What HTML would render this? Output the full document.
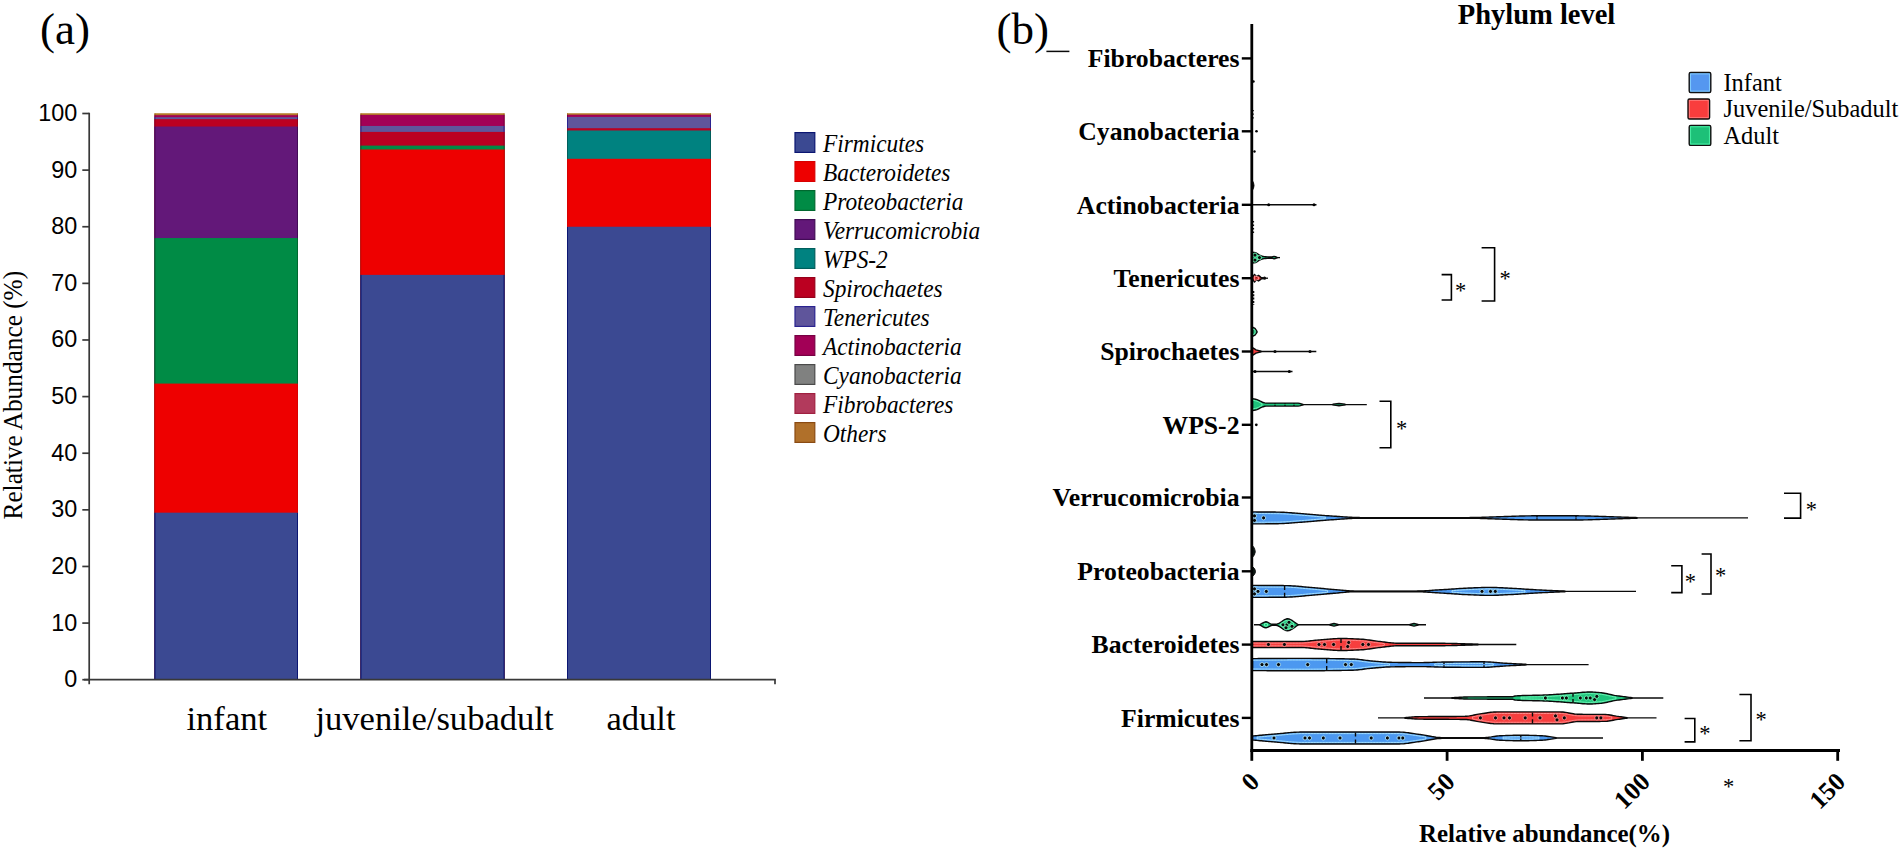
<!DOCTYPE html>
<html lang="en"><head><meta charset="utf-8"><title>Phylum level relative abundance</title>
<style>
html,body{margin:0;padding:0;background:#fff;}
body{width:1902px;height:851px;overflow:hidden;}
svg{display:block;}
text{white-space:pre;}
</style></head>
<body>
<svg width="1902" height="851" viewBox="0 0 1902 851">
<rect width="1902" height="851" fill="#ffffff"/>
<g id="panel-a">
<rect x="154.5" y="113.50" width="143.5" height="566.20" fill="#b0702a"/>
<rect x="154.5" y="115.20" width="143.5" height="564.50" fill="#a20056"/>
<rect x="154.5" y="117.18" width="143.5" height="562.52" fill="#5f559b"/>
<rect x="154.5" y="119.16" width="143.5" height="560.54" fill="#bb0021"/>
<rect x="154.5" y="126.52" width="143.5" height="553.18" fill="#631879"/>
<rect x="154.5" y="238.06" width="143.5" height="441.64" fill="#008b45"/>
<rect x="154.5" y="383.58" width="143.5" height="296.12" fill="#ee0000"/>
<rect x="154.5" y="512.67" width="143.5" height="167.03" fill="#3b4992"/>
<path d="M155.0 512.67 V679.70" stroke="#0b1672" stroke-width="1"/>
<path d="M297.5 512.67 V679.70" stroke="#0b1672" stroke-width="1"/>
<path d="M155.0 383.58 V512.67" stroke="#d80000" stroke-width="1"/>
<path d="M297.5 383.58 V512.67" stroke="#d80000" stroke-width="1"/>
<path d="M155.0 238.06 V383.58" stroke="#00682f" stroke-width="1"/>
<path d="M297.5 238.06 V383.58" stroke="#00682f" stroke-width="1"/>
<path d="M155.0 126.52 V238.06" stroke="#420c56" stroke-width="1"/>
<path d="M297.5 126.52 V238.06" stroke="#420c56" stroke-width="1"/>
<path d="M155.0 119.16 V126.52" stroke="#96001a" stroke-width="1"/>
<path d="M297.5 119.16 V126.52" stroke="#96001a" stroke-width="1"/>
<path d="M155.0 117.18 V119.16" stroke="#2a2390" stroke-width="1"/>
<path d="M297.5 117.18 V119.16" stroke="#2a2390" stroke-width="1"/>
<path d="M155.0 115.20 V117.18" stroke="#780044" stroke-width="1"/>
<path d="M297.5 115.20 V117.18" stroke="#780044" stroke-width="1"/>
<path d="M155.0 113.50 V115.20" stroke="#8a4a12" stroke-width="1"/>
<path d="M297.5 113.50 V115.20" stroke="#8a4a12" stroke-width="1"/>
<path d="M154.5 113.9 H298" stroke="#b8862e" stroke-width="0.9"/>
<rect x="360.5" y="113.50" width="144.0" height="566.20" fill="#b0702a"/>
<rect x="360.5" y="114.92" width="144.0" height="564.78" fill="#a20056"/>
<rect x="360.5" y="125.96" width="144.0" height="553.74" fill="#5f559b"/>
<rect x="360.5" y="131.90" width="144.0" height="547.80" fill="#bb0021"/>
<rect x="360.5" y="145.60" width="144.0" height="534.10" fill="#008b45"/>
<rect x="360.5" y="149.45" width="144.0" height="530.25" fill="#ee0000"/>
<rect x="360.5" y="274.87" width="144.0" height="404.83" fill="#3b4992"/>
<path d="M361.0 274.87 V679.70" stroke="#0b1672" stroke-width="1"/>
<path d="M504.0 274.87 V679.70" stroke="#0b1672" stroke-width="1"/>
<path d="M361.0 149.45 V274.87" stroke="#d80000" stroke-width="1"/>
<path d="M504.0 149.45 V274.87" stroke="#d80000" stroke-width="1"/>
<path d="M361.0 145.60 V149.45" stroke="#00682f" stroke-width="1"/>
<path d="M504.0 145.60 V149.45" stroke="#00682f" stroke-width="1"/>
<path d="M361.0 131.90 V145.60" stroke="#96001a" stroke-width="1"/>
<path d="M504.0 131.90 V145.60" stroke="#96001a" stroke-width="1"/>
<path d="M361.0 125.96 V131.90" stroke="#2a2390" stroke-width="1"/>
<path d="M504.0 125.96 V131.90" stroke="#2a2390" stroke-width="1"/>
<path d="M361.0 114.92 V125.96" stroke="#780044" stroke-width="1"/>
<path d="M504.0 114.92 V125.96" stroke="#780044" stroke-width="1"/>
<path d="M361.0 113.50 V114.92" stroke="#8a4a12" stroke-width="1"/>
<path d="M504.0 113.50 V114.92" stroke="#8a4a12" stroke-width="1"/>
<path d="M360.5 113.9 H504.5" stroke="#b8862e" stroke-width="0.9"/>
<rect x="567" y="113.50" width="144" height="566.20" fill="#b0702a"/>
<rect x="567" y="114.63" width="144" height="565.07" fill="#a20056"/>
<rect x="567" y="116.90" width="144" height="562.80" fill="#5f559b"/>
<rect x="567" y="128.22" width="144" height="551.48" fill="#bb0021"/>
<rect x="567" y="130.49" width="144" height="549.21" fill="#008280"/>
<rect x="567" y="158.80" width="144" height="520.90" fill="#ee0000"/>
<rect x="567" y="226.74" width="144" height="452.96" fill="#3b4992"/>
<path d="M567.5 226.74 V679.70" stroke="#0b1672" stroke-width="1"/>
<path d="M710.5 226.74 V679.70" stroke="#0b1672" stroke-width="1"/>
<path d="M567.5 158.80 V226.74" stroke="#d80000" stroke-width="1"/>
<path d="M710.5 158.80 V226.74" stroke="#d80000" stroke-width="1"/>
<path d="M567.5 130.49 V158.80" stroke="#005e5c" stroke-width="1"/>
<path d="M710.5 130.49 V158.80" stroke="#005e5c" stroke-width="1"/>
<path d="M567.5 128.22 V130.49" stroke="#96001a" stroke-width="1"/>
<path d="M710.5 128.22 V130.49" stroke="#96001a" stroke-width="1"/>
<path d="M567.5 116.90 V128.22" stroke="#2a2390" stroke-width="1"/>
<path d="M710.5 116.90 V128.22" stroke="#2a2390" stroke-width="1"/>
<path d="M567.5 114.63 V116.90" stroke="#780044" stroke-width="1"/>
<path d="M710.5 114.63 V116.90" stroke="#780044" stroke-width="1"/>
<path d="M567.5 113.50 V114.63" stroke="#8a4a12" stroke-width="1"/>
<path d="M710.5 113.50 V114.63" stroke="#8a4a12" stroke-width="1"/>
<path d="M567 113.9 H711" stroke="#b8862e" stroke-width="0.9"/>
<path d="M89.2 112.8 V684.3000000000001" stroke="#383838" stroke-width="1.7" fill="none"/>
<path d="M84 679.7 H775.9 M775.0 679.7 v4.6" stroke="#383838" stroke-width="1.7" fill="none"/>
<path d="M82.3 679.70 H89.2" stroke="#383838" stroke-width="1.7"/>
<text x="77.3" y="687.20" text-anchor="end" font-family='"Liberation Sans", sans-serif' font-size="23.4" fill="#000">0</text>
<path d="M82.3 623.08 H89.2" stroke="#383838" stroke-width="1.7"/>
<text x="77.3" y="630.58" text-anchor="end" font-family='"Liberation Sans", sans-serif' font-size="23.4" fill="#000">10</text>
<path d="M82.3 566.46 H89.2" stroke="#383838" stroke-width="1.7"/>
<text x="77.3" y="573.96" text-anchor="end" font-family='"Liberation Sans", sans-serif' font-size="23.4" fill="#000">20</text>
<path d="M82.3 509.84 H89.2" stroke="#383838" stroke-width="1.7"/>
<text x="77.3" y="517.34" text-anchor="end" font-family='"Liberation Sans", sans-serif' font-size="23.4" fill="#000">30</text>
<path d="M82.3 453.22 H89.2" stroke="#383838" stroke-width="1.7"/>
<text x="77.3" y="460.72" text-anchor="end" font-family='"Liberation Sans", sans-serif' font-size="23.4" fill="#000">40</text>
<path d="M82.3 396.60 H89.2" stroke="#383838" stroke-width="1.7"/>
<text x="77.3" y="404.10" text-anchor="end" font-family='"Liberation Sans", sans-serif' font-size="23.4" fill="#000">50</text>
<path d="M82.3 339.98 H89.2" stroke="#383838" stroke-width="1.7"/>
<text x="77.3" y="347.48" text-anchor="end" font-family='"Liberation Sans", sans-serif' font-size="23.4" fill="#000">60</text>
<path d="M82.3 283.36 H89.2" stroke="#383838" stroke-width="1.7"/>
<text x="77.3" y="290.86" text-anchor="end" font-family='"Liberation Sans", sans-serif' font-size="23.4" fill="#000">70</text>
<path d="M82.3 226.74 H89.2" stroke="#383838" stroke-width="1.7"/>
<text x="77.3" y="234.24" text-anchor="end" font-family='"Liberation Sans", sans-serif' font-size="23.4" fill="#000">80</text>
<path d="M82.3 170.12 H89.2" stroke="#383838" stroke-width="1.7"/>
<text x="77.3" y="177.62" text-anchor="end" font-family='"Liberation Sans", sans-serif' font-size="23.4" fill="#000">90</text>
<path d="M82.3 113.50 H89.2" stroke="#383838" stroke-width="1.7"/>
<text x="77.3" y="121.00" text-anchor="end" font-family='"Liberation Sans", sans-serif' font-size="23.4" fill="#000">100</text>
<text transform="translate(21.5 395.2) rotate(-90) scale(1 1.07)" text-anchor="middle" font-family='"Liberation Serif", serif' font-size="25.3" fill="#000">Relative Abundance (%)</text>
<text x="226.8" y="730" text-anchor="middle" font-family='"Liberation Serif", serif' font-size="34.6" fill="#000">infant</text>
<text x="434.5" y="730" text-anchor="middle" font-family='"Liberation Serif", serif' font-size="34.6" fill="#000">juvenile/subadult</text>
<text x="641" y="730" text-anchor="middle" font-family='"Liberation Serif", serif' font-size="34.6" fill="#000">adult</text>
<text x="40.1" y="43.6" font-family='"Liberation Serif", serif' font-size="45" fill="#000">(a)</text>
<rect x="795" y="132.6" width="19.8" height="19.8" fill="#3b4992" stroke="#0b1672" stroke-width="1.2"/>
<text transform="translate(823 151.5) scale(0.945 1)" font-family='"Liberation Serif", serif' font-style="italic" font-size="24.7" fill="#000">Firmicutes</text>
<rect x="795" y="161.6" width="19.8" height="19.8" fill="#ee0000" stroke="#d80000" stroke-width="1.2"/>
<text transform="translate(823 180.5) scale(0.945 1)" font-family='"Liberation Serif", serif' font-style="italic" font-size="24.7" fill="#000">Bacteroidetes</text>
<rect x="795" y="190.6" width="19.8" height="19.8" fill="#008b45" stroke="#00682f" stroke-width="1.2"/>
<text transform="translate(823 209.5) scale(0.945 1)" font-family='"Liberation Serif", serif' font-style="italic" font-size="24.7" fill="#000">Proteobacteria</text>
<rect x="795" y="219.6" width="19.8" height="19.8" fill="#631879" stroke="#420c56" stroke-width="1.2"/>
<text transform="translate(823 238.5) scale(0.945 1)" font-family='"Liberation Serif", serif' font-style="italic" font-size="24.7" fill="#000">Verrucomicrobia</text>
<rect x="795" y="248.6" width="19.8" height="19.8" fill="#008280" stroke="#005e5c" stroke-width="1.2"/>
<text transform="translate(823 267.5) scale(0.945 1)" font-family='"Liberation Serif", serif' font-style="italic" font-size="24.7" fill="#000">WPS-2</text>
<rect x="795" y="277.6" width="19.8" height="19.8" fill="#bb0021" stroke="#96001a" stroke-width="1.2"/>
<text transform="translate(823 296.5) scale(0.945 1)" font-family='"Liberation Serif", serif' font-style="italic" font-size="24.7" fill="#000">Spirochaetes</text>
<rect x="795" y="306.6" width="19.8" height="19.8" fill="#5f559b" stroke="#2a2390" stroke-width="1.2"/>
<text transform="translate(823 325.5) scale(0.945 1)" font-family='"Liberation Serif", serif' font-style="italic" font-size="24.7" fill="#000">Tenericutes</text>
<rect x="795" y="335.6" width="19.8" height="19.8" fill="#a20056" stroke="#780044" stroke-width="1.2"/>
<text transform="translate(823 354.5) scale(0.945 1)" font-family='"Liberation Serif", serif' font-style="italic" font-size="24.7" fill="#000">Actinobacteria</text>
<rect x="795" y="364.6" width="19.8" height="19.8" fill="#808180" stroke="#4a4a4a" stroke-width="1.2"/>
<text transform="translate(823 383.5) scale(0.945 1)" font-family='"Liberation Serif", serif' font-style="italic" font-size="24.7" fill="#000">Cyanobacteria</text>
<rect x="795" y="393.6" width="19.8" height="19.8" fill="#b23a5c" stroke="#a02040" stroke-width="1.2"/>
<text transform="translate(823 412.5) scale(0.945 1)" font-family='"Liberation Serif", serif' font-style="italic" font-size="24.7" fill="#000">Fibrobacteres</text>
<rect x="795" y="422.6" width="19.8" height="19.8" fill="#b0702a" stroke="#8a4a12" stroke-width="1.2"/>
<text transform="translate(823 441.5) scale(0.945 1)" font-family='"Liberation Serif", serif' font-style="italic" font-size="24.7" fill="#000">Others</text>
</g>
<g id="panel-b">
<text x="996.4" y="43.6" font-family='"Liberation Serif", serif' font-size="45" fill="#000">(b)</text>
<path d="M1046.4 51.4 H1069.4" stroke="#0a0a0a" stroke-width="1.5"/>
<text x="1536.5" y="24" text-anchor="middle" font-family='"Liberation Serif", serif' font-weight="bold" font-size="28.5" fill="#000">Phylum level</text>
<rect x="1689.2" y="72.5" width="21.6" height="20" rx="1.5" fill="#5597f0" stroke="#111" stroke-width="1.4"/>
<rect x="1690.6000000000001" y="73.9" width="18.8" height="17.2" fill="none" stroke="#86d2ff" stroke-width="0.9"/>
<text x="1723.5" y="90.8" font-family='"Liberation Serif", serif' font-size="24.4" fill="#000">Infant</text>
<rect x="1688" y="99" width="21.6" height="20" rx="1.5" fill="#f93d3d" stroke="#111" stroke-width="1.4"/>
<rect x="1689.4" y="100.4" width="18.8" height="17.2" fill="none" stroke="#ff7a7a" stroke-width="0.9"/>
<text x="1723.5" y="117.3" font-family='"Liberation Serif", serif' font-size="24.4" fill="#000">Juvenile/Subadult</text>
<rect x="1689.2" y="125.4" width="21.6" height="20" rx="1.5" fill="#1dc078" stroke="#111" stroke-width="1.4"/>
<rect x="1690.6000000000001" y="126.80000000000001" width="18.8" height="17.2" fill="none" stroke="#4df0a6" stroke-width="0.9"/>
<text x="1723.5" y="143.7" font-family='"Liberation Serif", serif' font-size="24.4" fill="#000">Adult</text>
<text x="1239.5" y="67.2" text-anchor="end" font-family='"Liberation Serif", serif' font-weight="bold" font-size="25.7" fill="#000">Fibrobacteres</text>
<path d="M1241.8 58.4 H1251.8" stroke="#000" stroke-width="2.4"/>
<text x="1239.5" y="140.1" text-anchor="end" font-family='"Liberation Serif", serif' font-weight="bold" font-size="25.7" fill="#000">Cyanobacteria</text>
<path d="M1241.8 131.3 H1251.8" stroke="#000" stroke-width="2.4"/>
<text x="1239.5" y="213.6" text-anchor="end" font-family='"Liberation Serif", serif' font-weight="bold" font-size="25.7" fill="#000">Actinobacteria</text>
<path d="M1241.8 204.8 H1251.8" stroke="#000" stroke-width="2.4"/>
<text x="1239.5" y="287.0" text-anchor="end" font-family='"Liberation Serif", serif' font-weight="bold" font-size="25.7" fill="#000">Tenericutes</text>
<path d="M1241.8 278.2 H1251.8" stroke="#000" stroke-width="2.4"/>
<text x="1239.5" y="360.3" text-anchor="end" font-family='"Liberation Serif", serif' font-weight="bold" font-size="25.7" fill="#000">Spirochaetes</text>
<path d="M1241.8 351.5 H1251.8" stroke="#000" stroke-width="2.4"/>
<text x="1239.5" y="433.6" text-anchor="end" font-family='"Liberation Serif", serif' font-weight="bold" font-size="25.7" fill="#000">WPS-2</text>
<path d="M1241.8 424.8 H1251.8" stroke="#000" stroke-width="2.4"/>
<text x="1239.5" y="506.3" text-anchor="end" font-family='"Liberation Serif", serif' font-weight="bold" font-size="25.7" fill="#000">Verrucomicrobia</text>
<path d="M1241.8 497.5 H1251.8" stroke="#000" stroke-width="2.4"/>
<text x="1239.5" y="580.1" text-anchor="end" font-family='"Liberation Serif", serif' font-weight="bold" font-size="25.7" fill="#000">Proteobacteria</text>
<path d="M1241.8 571.3 H1251.8" stroke="#000" stroke-width="2.4"/>
<text x="1239.5" y="653.4" text-anchor="end" font-family='"Liberation Serif", serif' font-weight="bold" font-size="25.7" fill="#000">Bacteroidetes</text>
<path d="M1241.8 644.6 H1251.8" stroke="#000" stroke-width="2.4"/>
<text x="1239.5" y="726.7" text-anchor="end" font-family='"Liberation Serif", serif' font-weight="bold" font-size="25.7" fill="#000">Firmicutes</text>
<path d="M1241.8 717.9 H1251.8" stroke="#000" stroke-width="2.4"/>
<path d="M1252 738 H1603" stroke="#0a0a0a" stroke-width="1.3"/>
<path d="M1252.5 736.00 L1254.0 735.87 L1255.5 735.73 L1257.0 735.59 L1258.5 735.46 L1260.0 735.32 L1261.5 735.18 L1263.0 735.04 L1264.5 734.91 L1266.0 734.77 L1267.5 734.64 L1269.0 734.50 L1270.5 734.37 L1272.0 734.25 L1273.5 734.12 L1275.0 734.00 L1276.5 733.88 L1277.9 733.75 L1279.4 733.62 L1280.9 733.48 L1282.4 733.34 L1283.8 733.20 L1285.3 733.06 L1286.8 732.92 L1288.3 732.79 L1289.7 732.66 L1291.2 732.54 L1292.7 732.42 L1294.2 732.32 L1295.6 732.23 L1297.1 732.15 L1298.6 732.09 L1300.1 732.04 L1301.5 732.01 L1303.0 732.00 L1304.5 732.00 L1306.0 732.00 L1307.5 732.00 L1309.0 732.00 L1310.5 732.00 L1312.0 732.00 L1313.6 732.00 L1315.1 732.00 L1316.6 732.00 L1318.1 732.00 L1319.6 732.00 L1321.1 732.00 L1322.6 732.00 L1324.1 732.00 L1325.6 732.00 L1327.1 732.00 L1328.6 732.00 L1330.1 732.00 L1331.7 732.00 L1333.2 732.00 L1334.7 732.00 L1336.2 732.00 L1337.7 732.00 L1339.2 732.00 L1340.7 732.00 L1342.2 732.00 L1343.7 732.00 L1345.2 732.00 L1346.7 732.00 L1348.2 732.00 L1349.7 732.00 L1351.3 732.00 L1352.8 732.00 L1354.3 732.00 L1355.8 732.00 L1357.3 732.00 L1358.8 732.00 L1360.3 732.00 L1361.8 732.00 L1363.3 732.00 L1364.8 732.00 L1366.3 732.00 L1367.8 732.00 L1369.3 732.00 L1370.9 732.00 L1372.4 732.00 L1373.9 732.00 L1375.4 732.00 L1376.9 732.00 L1378.4 732.00 L1379.9 732.00 L1381.4 732.00 L1382.9 732.00 L1384.4 732.00 L1385.9 732.00 L1387.4 732.00 L1389.0 732.00 L1390.5 732.00 L1392.0 732.00 L1393.5 732.00 L1395.0 732.00 L1396.5 732.00 L1398.0 732.00 L1399.5 732.02 L1400.9 732.08 L1402.4 732.17 L1403.9 732.29 L1405.3 732.44 L1406.8 732.61 L1408.3 732.80 L1409.7 733.01 L1411.2 733.22 L1412.7 733.44 L1414.1 733.66 L1415.6 733.89 L1417.1 734.10 L1418.5 734.31 L1420.0 734.50 L1421.5 734.70 L1422.9 734.93 L1424.4 735.18 L1425.9 735.44 L1427.3 735.71 L1428.8 735.99 L1430.3 736.26 L1431.7 736.53 L1433.2 736.77 L1434.7 737.00 L1436.1 737.20 L1437.6 737.37 L1439.1 737.49 L1440.5 737.57 L1442.0 737.60 L1443.5 737.60 L1445.0 737.60 L1446.5 737.60 L1448.0 737.60 L1449.5 737.60 L1451.0 737.60 L1452.5 737.60 L1454.0 737.60 L1455.5 737.60 L1457.0 737.60 L1458.5 737.60 L1460.0 737.60 L1461.5 737.60 L1463.0 737.60 L1464.5 737.60 L1466.0 737.60 L1467.5 737.60 L1469.0 737.60 L1470.5 737.60 L1472.0 737.60 L1473.5 737.60 L1475.0 737.60 L1476.5 737.60 L1478.0 737.60 L1479.5 737.60 L1481.0 737.60 L1482.5 737.60 L1484.0 737.60 L1485.5 737.56 L1486.9 737.46 L1488.4 737.31 L1489.8 737.12 L1491.3 736.91 L1492.7 736.68 L1494.2 736.45 L1495.6 736.24 L1497.1 736.05 L1498.5 735.90 L1500.0 735.80 L1501.5 735.73 L1503.0 735.66 L1504.5 735.60 L1506.0 735.54 L1507.5 735.48 L1509.0 735.43 L1510.5 735.38 L1512.0 735.33 L1513.5 735.29 L1515.0 735.26 L1516.5 735.24 L1518.0 735.22 L1519.5 735.20 L1521.0 735.20 L1522.5 735.20 L1524.0 735.22 L1525.5 735.23 L1527.0 735.26 L1528.5 735.29 L1530.0 735.33 L1531.5 735.37 L1533.0 735.42 L1534.5 735.47 L1536.0 735.53 L1537.5 735.59 L1539.0 735.66 L1540.5 735.73 L1542.0 735.80 L1543.6 735.90 L1545.1 736.05 L1546.7 736.23 L1548.2 736.45 L1549.8 736.68 L1551.3 736.92 L1552.9 737.16 L1554.4 737.39 L1556.0 737.60 L1556.0 738.40 L1554.4 738.61 L1552.9 738.84 L1551.3 739.08 L1549.8 739.32 L1548.2 739.55 L1546.7 739.77 L1545.1 739.95 L1543.6 740.10 L1542.0 740.20 L1540.5 740.27 L1539.0 740.34 L1537.5 740.41 L1536.0 740.47 L1534.5 740.53 L1533.0 740.58 L1531.5 740.63 L1530.0 740.67 L1528.5 740.71 L1527.0 740.74 L1525.5 740.77 L1524.0 740.78 L1522.5 740.80 L1521.0 740.80 L1519.5 740.80 L1518.0 740.78 L1516.5 740.76 L1515.0 740.74 L1513.5 740.71 L1512.0 740.67 L1510.5 740.62 L1509.0 740.57 L1507.5 740.52 L1506.0 740.46 L1504.5 740.40 L1503.0 740.34 L1501.5 740.27 L1500.0 740.20 L1498.5 740.10 L1497.1 739.95 L1495.6 739.76 L1494.2 739.55 L1492.7 739.32 L1491.3 739.09 L1489.8 738.88 L1488.4 738.69 L1486.9 738.54 L1485.5 738.44 L1484.0 738.40 L1482.5 738.40 L1481.0 738.40 L1479.5 738.40 L1478.0 738.40 L1476.5 738.40 L1475.0 738.40 L1473.5 738.40 L1472.0 738.40 L1470.5 738.40 L1469.0 738.40 L1467.5 738.40 L1466.0 738.40 L1464.5 738.40 L1463.0 738.40 L1461.5 738.40 L1460.0 738.40 L1458.5 738.40 L1457.0 738.40 L1455.5 738.40 L1454.0 738.40 L1452.5 738.40 L1451.0 738.40 L1449.5 738.40 L1448.0 738.40 L1446.5 738.40 L1445.0 738.40 L1443.5 738.40 L1442.0 738.40 L1440.5 738.43 L1439.1 738.51 L1437.6 738.63 L1436.1 738.80 L1434.7 739.00 L1433.2 739.23 L1431.7 739.47 L1430.3 739.74 L1428.8 740.01 L1427.3 740.29 L1425.9 740.56 L1424.4 740.82 L1422.9 741.07 L1421.5 741.30 L1420.0 741.50 L1418.5 741.69 L1417.1 741.90 L1415.6 742.11 L1414.1 742.34 L1412.7 742.56 L1411.2 742.78 L1409.7 742.99 L1408.3 743.20 L1406.8 743.39 L1405.3 743.56 L1403.9 743.71 L1402.4 743.83 L1400.9 743.92 L1399.5 743.98 L1398.0 744.00 L1396.5 744.00 L1395.0 744.00 L1393.5 744.00 L1392.0 744.00 L1390.5 744.00 L1389.0 744.00 L1387.4 744.00 L1385.9 744.00 L1384.4 744.00 L1382.9 744.00 L1381.4 744.00 L1379.9 744.00 L1378.4 744.00 L1376.9 744.00 L1375.4 744.00 L1373.9 744.00 L1372.4 744.00 L1370.9 744.00 L1369.3 744.00 L1367.8 744.00 L1366.3 744.00 L1364.8 744.00 L1363.3 744.00 L1361.8 744.00 L1360.3 744.00 L1358.8 744.00 L1357.3 744.00 L1355.8 744.00 L1354.3 744.00 L1352.8 744.00 L1351.3 744.00 L1349.7 744.00 L1348.2 744.00 L1346.7 744.00 L1345.2 744.00 L1343.7 744.00 L1342.2 744.00 L1340.7 744.00 L1339.2 744.00 L1337.7 744.00 L1336.2 744.00 L1334.7 744.00 L1333.2 744.00 L1331.7 744.00 L1330.1 744.00 L1328.6 744.00 L1327.1 744.00 L1325.6 744.00 L1324.1 744.00 L1322.6 744.00 L1321.1 744.00 L1319.6 744.00 L1318.1 744.00 L1316.6 744.00 L1315.1 744.00 L1313.6 744.00 L1312.0 744.00 L1310.5 744.00 L1309.0 744.00 L1307.5 744.00 L1306.0 744.00 L1304.5 744.00 L1303.0 744.00 L1301.5 743.99 L1300.1 743.96 L1298.6 743.91 L1297.1 743.85 L1295.6 743.77 L1294.2 743.68 L1292.7 743.58 L1291.2 743.46 L1289.7 743.34 L1288.3 743.21 L1286.8 743.08 L1285.3 742.94 L1283.8 742.80 L1282.4 742.66 L1280.9 742.52 L1279.4 742.38 L1277.9 742.25 L1276.5 742.12 L1275.0 742.00 L1273.5 741.88 L1272.0 741.75 L1270.5 741.63 L1269.0 741.50 L1267.5 741.36 L1266.0 741.23 L1264.5 741.09 L1263.0 740.96 L1261.5 740.82 L1260.0 740.68 L1258.5 740.54 L1257.0 740.41 L1255.5 740.27 L1254.0 740.13 L1252.5 740.00 Z" fill="#4c98f0" stroke="#0a0a0a" stroke-width="1.4" stroke-linejoin="round"/>
<path d="M1257.0 737.19 L1258.5 737.06 L1260.0 736.92 L1261.5 736.78 L1263.0 736.64 L1264.5 736.51 L1266.0 736.37 L1267.5 736.24 L1269.0 736.10 L1270.5 735.97 L1272.0 735.85 L1273.5 735.72 L1275.0 735.60 L1276.5 735.48 L1277.9 735.35 L1279.4 735.22 L1280.9 735.08 L1282.4 734.94 L1283.8 734.80 L1285.3 734.66 L1286.8 734.52 L1288.3 734.39 L1289.7 734.26 L1291.2 734.14 L1292.7 734.02 L1294.2 733.92 L1295.6 733.83 L1297.1 733.75 L1298.6 733.69 L1300.1 733.64 L1301.5 733.61 L1303.0 733.60 L1304.5 733.60 L1306.0 733.60 L1307.5 733.60 L1309.0 733.60 L1310.5 733.60 L1312.0 733.60 L1313.6 733.60 L1315.1 733.60 L1316.6 733.60 L1318.1 733.60 L1319.6 733.60 L1321.1 733.60 L1322.6 733.60 L1324.1 733.60 L1325.6 733.60 L1327.1 733.60 L1328.6 733.60 L1330.1 733.60 L1331.7 733.60 L1333.2 733.60 L1334.7 733.60 L1336.2 733.60 L1337.7 733.60 L1339.2 733.60 L1340.7 733.60 L1342.2 733.60 L1343.7 733.60 L1345.2 733.60 L1346.7 733.60 L1348.2 733.60 L1349.7 733.60 L1351.3 733.60 L1352.8 733.60 L1354.3 733.60 L1355.8 733.60 L1357.3 733.60 L1358.8 733.60 L1360.3 733.60 L1361.8 733.60 L1363.3 733.60 L1364.8 733.60 L1366.3 733.60 L1367.8 733.60 L1369.3 733.60 L1370.9 733.60 L1372.4 733.60 L1373.9 733.60 L1375.4 733.60 L1376.9 733.60 L1378.4 733.60 L1379.9 733.60 L1381.4 733.60 L1382.9 733.60 L1384.4 733.60 L1385.9 733.60 L1387.4 733.60 L1389.0 733.60 L1390.5 733.60 L1392.0 733.60 L1393.5 733.60 L1395.0 733.60 L1396.5 733.60 L1398.0 733.60 L1399.5 733.62 L1400.9 733.68 L1402.4 733.77 L1403.9 733.89 L1405.3 734.04 L1406.8 734.21 L1408.3 734.40 L1409.7 734.61 L1411.2 734.82 L1412.7 735.04 L1414.1 735.26 L1415.6 735.49 L1417.1 735.70 L1418.5 735.91 L1420.0 736.10 L1421.5 736.30 L1422.9 736.53 L1424.4 736.78 L1425.9 737.04 L1425.9 738.96 L1424.4 739.22 L1422.9 739.47 L1421.5 739.70 L1420.0 739.90 L1418.5 740.09 L1417.1 740.30 L1415.6 740.51 L1414.1 740.74 L1412.7 740.96 L1411.2 741.18 L1409.7 741.39 L1408.3 741.60 L1406.8 741.79 L1405.3 741.96 L1403.9 742.11 L1402.4 742.23 L1400.9 742.32 L1399.5 742.38 L1398.0 742.40 L1396.5 742.40 L1395.0 742.40 L1393.5 742.40 L1392.0 742.40 L1390.5 742.40 L1389.0 742.40 L1387.4 742.40 L1385.9 742.40 L1384.4 742.40 L1382.9 742.40 L1381.4 742.40 L1379.9 742.40 L1378.4 742.40 L1376.9 742.40 L1375.4 742.40 L1373.9 742.40 L1372.4 742.40 L1370.9 742.40 L1369.3 742.40 L1367.8 742.40 L1366.3 742.40 L1364.8 742.40 L1363.3 742.40 L1361.8 742.40 L1360.3 742.40 L1358.8 742.40 L1357.3 742.40 L1355.8 742.40 L1354.3 742.40 L1352.8 742.40 L1351.3 742.40 L1349.7 742.40 L1348.2 742.40 L1346.7 742.40 L1345.2 742.40 L1343.7 742.40 L1342.2 742.40 L1340.7 742.40 L1339.2 742.40 L1337.7 742.40 L1336.2 742.40 L1334.7 742.40 L1333.2 742.40 L1331.7 742.40 L1330.1 742.40 L1328.6 742.40 L1327.1 742.40 L1325.6 742.40 L1324.1 742.40 L1322.6 742.40 L1321.1 742.40 L1319.6 742.40 L1318.1 742.40 L1316.6 742.40 L1315.1 742.40 L1313.6 742.40 L1312.0 742.40 L1310.5 742.40 L1309.0 742.40 L1307.5 742.40 L1306.0 742.40 L1304.5 742.40 L1303.0 742.40 L1301.5 742.39 L1300.1 742.36 L1298.6 742.31 L1297.1 742.25 L1295.6 742.17 L1294.2 742.08 L1292.7 741.98 L1291.2 741.86 L1289.7 741.74 L1288.3 741.61 L1286.8 741.48 L1285.3 741.34 L1283.8 741.20 L1282.4 741.06 L1280.9 740.92 L1279.4 740.78 L1277.9 740.65 L1276.5 740.52 L1275.0 740.40 L1273.5 740.28 L1272.0 740.15 L1270.5 740.03 L1269.0 739.90 L1267.5 739.76 L1266.0 739.63 L1264.5 739.49 L1263.0 739.36 L1261.5 739.22 L1260.0 739.08 L1258.5 738.94 L1257.0 738.81 Z" fill="none" stroke="#a6e2ff" stroke-width="1"/>
<path d="M1503.0 737.26 L1504.5 737.20 L1506.0 737.14 L1507.5 737.08 L1509.0 737.03 L1510.5 736.98 L1512.0 736.93 L1513.5 736.89 L1515.0 736.86 L1516.5 736.84 L1518.0 736.82 L1519.5 736.80 L1521.0 736.80 L1522.5 736.80 L1524.0 736.82 L1525.5 736.83 L1527.0 736.86 L1528.5 736.89 L1530.0 736.93 L1531.5 736.97 L1533.0 737.02 L1534.5 737.07 L1536.0 737.13 L1537.5 737.19 L1539.0 737.26 L1539.0 738.74 L1537.5 738.81 L1536.0 738.87 L1534.5 738.93 L1533.0 738.98 L1531.5 739.03 L1530.0 739.07 L1528.5 739.11 L1527.0 739.14 L1525.5 739.17 L1524.0 739.18 L1522.5 739.20 L1521.0 739.20 L1519.5 739.20 L1518.0 739.18 L1516.5 739.16 L1515.0 739.14 L1513.5 739.11 L1512.0 739.07 L1510.5 739.02 L1509.0 738.97 L1507.5 738.92 L1506.0 738.86 L1504.5 738.80 L1503.0 738.74 Z" fill="none" stroke="#a6e2ff" stroke-width="1"/>
<path d="M1355.5 732.5 V743.5" stroke="#0a0a0a" stroke-width="1.4" stroke-dasharray="4.1 2.8"/>
<path d="M1520.8 735.5 V740.5" stroke="#0a0a0a" stroke-width="1.4" stroke-dasharray="1.9 1.2"/>
<circle cx="1274" cy="738" r="2.05" fill="#0a0a0a" stroke="#a6e2ff" stroke-width="0.9"/>
<circle cx="1305" cy="738" r="2.05" fill="#0a0a0a" stroke="#a6e2ff" stroke-width="0.9"/>
<circle cx="1309.5" cy="738" r="2.05" fill="#0a0a0a" stroke="#a6e2ff" stroke-width="0.9"/>
<circle cx="1323.3" cy="738" r="2.05" fill="#0a0a0a" stroke="#a6e2ff" stroke-width="0.9"/>
<circle cx="1340" cy="738" r="2.05" fill="#0a0a0a" stroke="#a6e2ff" stroke-width="0.9"/>
<circle cx="1371.2" cy="738" r="2.05" fill="#0a0a0a" stroke="#a6e2ff" stroke-width="0.9"/>
<circle cx="1387.4" cy="738" r="2.05" fill="#0a0a0a" stroke="#a6e2ff" stroke-width="0.9"/>
<circle cx="1399" cy="738" r="2.05" fill="#0a0a0a" stroke="#a6e2ff" stroke-width="0.9"/>
<circle cx="1402.8" cy="738" r="2.05" fill="#0a0a0a" stroke="#a6e2ff" stroke-width="0.9"/>
<path d="M1378 717.9 H1656.5" stroke="#0a0a0a" stroke-width="1.3"/>
<path d="M1405.0 717.60 L1406.4 717.49 L1407.9 717.37 L1409.3 717.25 L1410.8 717.13 L1412.2 717.01 L1413.7 716.90 L1415.1 716.81 L1416.6 716.74 L1418.0 716.70 L1419.5 716.67 L1421.0 716.65 L1422.5 716.63 L1424.1 716.61 L1425.6 716.60 L1427.1 716.58 L1428.6 716.57 L1430.1 716.56 L1431.6 716.55 L1433.2 716.54 L1434.7 716.53 L1436.2 716.53 L1437.7 716.52 L1439.2 716.52 L1440.7 716.51 L1442.3 716.51 L1443.8 716.50 L1445.3 716.49 L1446.8 716.49 L1448.3 716.48 L1449.8 716.47 L1451.4 716.46 L1452.9 716.45 L1454.4 716.44 L1455.9 716.43 L1457.4 716.41 L1458.9 716.39 L1460.5 716.37 L1462.0 716.35 L1463.5 716.33 L1465.0 716.30 L1466.5 716.23 L1468.0 716.08 L1469.5 715.87 L1471.0 715.61 L1472.5 715.32 L1474.0 715.01 L1475.5 714.70 L1477.0 714.40 L1478.5 714.13 L1480.0 713.90 L1481.5 713.68 L1483.1 713.44 L1484.6 713.20 L1486.2 712.96 L1487.7 712.72 L1489.3 712.50 L1490.8 712.31 L1492.4 712.14 L1493.9 712.01 L1495.5 711.93 L1497.0 711.90 L1498.5 711.90 L1500.0 711.90 L1501.5 711.90 L1503.0 711.90 L1504.5 711.90 L1506.0 711.90 L1507.5 711.90 L1509.0 711.90 L1510.5 711.90 L1512.0 711.90 L1513.5 711.90 L1515.0 711.90 L1516.5 711.90 L1518.0 711.90 L1519.5 711.90 L1521.0 711.90 L1522.5 711.90 L1524.0 711.90 L1525.5 711.90 L1527.0 711.90 L1528.5 711.90 L1530.0 711.90 L1531.5 711.90 L1533.0 711.90 L1534.5 711.90 L1536.0 711.90 L1537.5 711.90 L1539.0 711.90 L1540.5 711.90 L1542.0 711.90 L1543.5 711.90 L1545.0 711.90 L1546.5 711.90 L1548.0 711.90 L1549.5 711.90 L1551.0 711.90 L1552.5 711.90 L1554.0 711.90 L1555.5 711.90 L1557.0 711.90 L1558.5 711.90 L1560.0 711.90 L1561.5 711.94 L1562.9 712.05 L1564.4 712.22 L1565.8 712.43 L1567.3 712.68 L1568.8 712.94 L1570.2 713.22 L1571.7 713.49 L1573.2 713.74 L1574.6 713.95 L1576.1 714.13 L1577.5 714.25 L1579.0 714.30 L1580.5 714.31 L1581.9 714.32 L1583.4 714.33 L1584.9 714.33 L1586.4 714.34 L1587.8 714.34 L1589.3 714.34 L1590.8 714.35 L1592.2 714.35 L1593.7 714.35 L1595.2 714.36 L1596.6 714.36 L1598.1 714.37 L1599.6 714.37 L1601.1 714.38 L1602.5 714.39 L1604.0 714.40 L1605.6 714.46 L1607.1 714.59 L1608.7 714.79 L1610.2 715.04 L1611.8 715.31 L1613.3 715.60 L1614.9 715.89 L1616.4 716.16 L1618.0 716.40 L1619.5 716.60 L1621.0 716.81 L1622.5 717.00 L1624.0 717.20 L1625.5 717.40 L1627.0 717.60 L1627.0 718.20 L1625.5 718.40 L1624.0 718.60 L1622.5 718.80 L1621.0 718.99 L1619.5 719.20 L1618.0 719.40 L1616.4 719.64 L1614.9 719.91 L1613.3 720.20 L1611.8 720.49 L1610.2 720.76 L1608.7 721.01 L1607.1 721.21 L1605.6 721.34 L1604.0 721.40 L1602.5 721.41 L1601.1 721.42 L1599.6 721.43 L1598.1 721.43 L1596.6 721.44 L1595.2 721.44 L1593.7 721.45 L1592.2 721.45 L1590.8 721.45 L1589.3 721.46 L1587.8 721.46 L1586.4 721.46 L1584.9 721.47 L1583.4 721.47 L1581.9 721.48 L1580.5 721.49 L1579.0 721.50 L1577.5 721.55 L1576.1 721.67 L1574.6 721.85 L1573.2 722.06 L1571.7 722.31 L1570.2 722.58 L1568.8 722.86 L1567.3 723.12 L1565.8 723.37 L1564.4 723.58 L1562.9 723.75 L1561.5 723.86 L1560.0 723.90 L1558.5 723.90 L1557.0 723.90 L1555.5 723.90 L1554.0 723.90 L1552.5 723.90 L1551.0 723.90 L1549.5 723.90 L1548.0 723.90 L1546.5 723.90 L1545.0 723.90 L1543.5 723.90 L1542.0 723.90 L1540.5 723.90 L1539.0 723.90 L1537.5 723.90 L1536.0 723.90 L1534.5 723.90 L1533.0 723.90 L1531.5 723.90 L1530.0 723.90 L1528.5 723.90 L1527.0 723.90 L1525.5 723.90 L1524.0 723.90 L1522.5 723.90 L1521.0 723.90 L1519.5 723.90 L1518.0 723.90 L1516.5 723.90 L1515.0 723.90 L1513.5 723.90 L1512.0 723.90 L1510.5 723.90 L1509.0 723.90 L1507.5 723.90 L1506.0 723.90 L1504.5 723.90 L1503.0 723.90 L1501.5 723.90 L1500.0 723.90 L1498.5 723.90 L1497.0 723.90 L1495.5 723.87 L1493.9 723.79 L1492.4 723.66 L1490.8 723.49 L1489.3 723.30 L1487.7 723.08 L1486.2 722.84 L1484.6 722.60 L1483.1 722.36 L1481.5 722.12 L1480.0 721.90 L1478.5 721.67 L1477.0 721.40 L1475.5 721.10 L1474.0 720.79 L1472.5 720.48 L1471.0 720.19 L1469.5 719.93 L1468.0 719.72 L1466.5 719.57 L1465.0 719.50 L1463.5 719.47 L1462.0 719.45 L1460.5 719.43 L1458.9 719.41 L1457.4 719.39 L1455.9 719.37 L1454.4 719.36 L1452.9 719.35 L1451.4 719.34 L1449.8 719.33 L1448.3 719.32 L1446.8 719.31 L1445.3 719.31 L1443.8 719.30 L1442.3 719.29 L1440.7 719.29 L1439.2 719.28 L1437.7 719.28 L1436.2 719.27 L1434.7 719.27 L1433.2 719.26 L1431.6 719.25 L1430.1 719.24 L1428.6 719.23 L1427.1 719.22 L1425.6 719.20 L1424.1 719.19 L1422.5 719.17 L1421.0 719.15 L1419.5 719.13 L1418.0 719.10 L1416.6 719.06 L1415.1 718.99 L1413.7 718.90 L1412.2 718.79 L1410.8 718.67 L1409.3 718.55 L1407.9 718.43 L1406.4 718.31 L1405.0 718.20 Z" fill="#f63e3e" stroke="#0a0a0a" stroke-width="1.4" stroke-linejoin="round"/>
<path d="M1472.5 716.92 L1474.0 716.61 L1475.5 716.30 L1477.0 716.00 L1478.5 715.73 L1480.0 715.50 L1481.5 715.28 L1483.1 715.04 L1484.6 714.80 L1486.2 714.56 L1487.7 714.32 L1489.3 714.10 L1490.8 713.91 L1492.4 713.74 L1493.9 713.61 L1495.5 713.53 L1497.0 713.50 L1498.5 713.50 L1500.0 713.50 L1501.5 713.50 L1503.0 713.50 L1504.5 713.50 L1506.0 713.50 L1507.5 713.50 L1509.0 713.50 L1510.5 713.50 L1512.0 713.50 L1513.5 713.50 L1515.0 713.50 L1516.5 713.50 L1518.0 713.50 L1519.5 713.50 L1521.0 713.50 L1522.5 713.50 L1524.0 713.50 L1525.5 713.50 L1527.0 713.50 L1528.5 713.50 L1530.0 713.50 L1531.5 713.50 L1533.0 713.50 L1534.5 713.50 L1536.0 713.50 L1537.5 713.50 L1539.0 713.50 L1540.5 713.50 L1542.0 713.50 L1543.5 713.50 L1545.0 713.50 L1546.5 713.50 L1548.0 713.50 L1549.5 713.50 L1551.0 713.50 L1552.5 713.50 L1554.0 713.50 L1555.5 713.50 L1557.0 713.50 L1558.5 713.50 L1560.0 713.50 L1561.5 713.54 L1562.9 713.65 L1564.4 713.82 L1565.8 714.03 L1567.3 714.28 L1568.8 714.54 L1570.2 714.82 L1571.7 715.09 L1573.2 715.34 L1574.6 715.55 L1576.1 715.73 L1577.5 715.85 L1579.0 715.90 L1580.5 715.91 L1581.9 715.92 L1583.4 715.93 L1584.9 715.93 L1586.4 715.94 L1587.8 715.94 L1589.3 715.94 L1590.8 715.95 L1592.2 715.95 L1593.7 715.95 L1595.2 715.96 L1596.6 715.96 L1598.1 715.97 L1599.6 715.97 L1601.1 715.98 L1602.5 715.99 L1604.0 716.00 L1605.6 716.06 L1607.1 716.19 L1608.7 716.39 L1610.2 716.64 L1611.8 716.91 L1611.8 718.89 L1610.2 719.16 L1608.7 719.41 L1607.1 719.61 L1605.6 719.74 L1604.0 719.80 L1602.5 719.81 L1601.1 719.82 L1599.6 719.83 L1598.1 719.83 L1596.6 719.84 L1595.2 719.84 L1593.7 719.85 L1592.2 719.85 L1590.8 719.85 L1589.3 719.86 L1587.8 719.86 L1586.4 719.86 L1584.9 719.87 L1583.4 719.87 L1581.9 719.88 L1580.5 719.89 L1579.0 719.90 L1577.5 719.95 L1576.1 720.07 L1574.6 720.25 L1573.2 720.46 L1571.7 720.71 L1570.2 720.98 L1568.8 721.26 L1567.3 721.52 L1565.8 721.77 L1564.4 721.98 L1562.9 722.15 L1561.5 722.26 L1560.0 722.30 L1558.5 722.30 L1557.0 722.30 L1555.5 722.30 L1554.0 722.30 L1552.5 722.30 L1551.0 722.30 L1549.5 722.30 L1548.0 722.30 L1546.5 722.30 L1545.0 722.30 L1543.5 722.30 L1542.0 722.30 L1540.5 722.30 L1539.0 722.30 L1537.5 722.30 L1536.0 722.30 L1534.5 722.30 L1533.0 722.30 L1531.5 722.30 L1530.0 722.30 L1528.5 722.30 L1527.0 722.30 L1525.5 722.30 L1524.0 722.30 L1522.5 722.30 L1521.0 722.30 L1519.5 722.30 L1518.0 722.30 L1516.5 722.30 L1515.0 722.30 L1513.5 722.30 L1512.0 722.30 L1510.5 722.30 L1509.0 722.30 L1507.5 722.30 L1506.0 722.30 L1504.5 722.30 L1503.0 722.30 L1501.5 722.30 L1500.0 722.30 L1498.5 722.30 L1497.0 722.30 L1495.5 722.27 L1493.9 722.19 L1492.4 722.06 L1490.8 721.89 L1489.3 721.70 L1487.7 721.48 L1486.2 721.24 L1484.6 721.00 L1483.1 720.76 L1481.5 720.52 L1480.0 720.30 L1478.5 720.07 L1477.0 719.80 L1475.5 719.50 L1474.0 719.19 L1472.5 718.88 Z" fill="none" stroke="#ff8a8a" stroke-width="1"/>
<path d="M1532.5 712.4 V723.4" stroke="#0a0a0a" stroke-width="1.4" stroke-dasharray="4.1 2.8"/>
<circle cx="1480.4" cy="717.9" r="2.05" fill="#0a0a0a" stroke="#ff8a8a" stroke-width="0.9"/>
<circle cx="1495.5" cy="717.9" r="2.05" fill="#0a0a0a" stroke="#ff8a8a" stroke-width="0.9"/>
<circle cx="1504" cy="717.9" r="2.05" fill="#0a0a0a" stroke="#ff8a8a" stroke-width="0.9"/>
<circle cx="1509.5" cy="717.9" r="2.05" fill="#0a0a0a" stroke="#ff8a8a" stroke-width="0.9"/>
<circle cx="1525.2" cy="717.9" r="2.05" fill="#0a0a0a" stroke="#ff8a8a" stroke-width="0.9"/>
<circle cx="1540" cy="717.9" r="2.05" fill="#0a0a0a" stroke="#ff8a8a" stroke-width="0.9"/>
<circle cx="1555.5" cy="715.9" r="2.05" fill="#0a0a0a" stroke="#ff8a8a" stroke-width="0.9"/>
<circle cx="1557" cy="719.9" r="2.05" fill="#0a0a0a" stroke="#ff8a8a" stroke-width="0.9"/>
<circle cx="1564.3" cy="717.9" r="2.05" fill="#0a0a0a" stroke="#ff8a8a" stroke-width="0.9"/>
<circle cx="1596.8" cy="717.9" r="2.05" fill="#0a0a0a" stroke="#ff8a8a" stroke-width="0.9"/>
<circle cx="1600.9" cy="717.9" r="2.05" fill="#0a0a0a" stroke="#ff8a8a" stroke-width="0.9"/>
<path d="M1424 698 H1663.3" stroke="#0a0a0a" stroke-width="1.3"/>
<path d="M1452.0 697.70 L1453.5 697.63 L1455.0 697.55 L1456.5 697.47 L1458.0 697.39 L1459.5 697.30 L1461.0 697.22 L1462.5 697.14 L1464.0 697.07 L1465.5 697.01 L1467.0 696.96 L1468.5 696.92 L1470.0 696.90 L1471.5 696.89 L1473.0 696.88 L1474.4 696.87 L1475.9 696.86 L1477.4 696.85 L1478.9 696.84 L1480.4 696.84 L1481.9 696.83 L1483.3 696.83 L1484.8 696.83 L1486.3 696.83 L1487.8 696.82 L1489.3 696.82 L1490.8 696.82 L1492.2 696.82 L1493.7 696.82 L1495.2 696.81 L1496.7 696.81 L1498.2 696.81 L1499.7 696.80 L1501.1 696.80 L1502.6 696.79 L1504.1 696.78 L1505.6 696.77 L1507.1 696.76 L1508.6 696.75 L1510.0 696.73 L1511.5 696.72 L1513.0 696.70 L1515.0 696.00 L1516.5 695.89 L1518.0 695.79 L1519.5 695.70 L1521.0 695.63 L1522.5 695.57 L1524.0 695.51 L1525.5 695.47 L1527.0 695.43 L1528.5 695.40 L1530.0 695.37 L1531.5 695.34 L1533.0 695.31 L1534.5 695.29 L1536.0 695.26 L1537.5 695.23 L1539.0 695.20 L1540.5 695.16 L1542.0 695.11 L1543.5 695.06 L1545.0 695.00 L1546.5 694.93 L1548.0 694.85 L1549.5 694.77 L1551.0 694.69 L1552.5 694.60 L1554.0 694.50 L1555.5 694.40 L1557.0 694.30 L1558.5 694.20 L1560.0 694.09 L1561.5 693.98 L1563.0 693.88 L1564.5 693.76 L1566.0 693.65 L1567.5 693.54 L1569.0 693.43 L1570.5 693.32 L1572.0 693.21 L1573.5 693.11 L1575.0 693.00 L1576.6 692.88 L1578.1 692.74 L1579.7 692.60 L1581.2 692.45 L1582.8 692.31 L1584.3 692.19 L1585.9 692.09 L1587.4 692.02 L1589.0 692.00 L1590.6 692.02 L1592.1 692.07 L1593.7 692.14 L1595.3 692.24 L1596.9 692.35 L1598.4 692.47 L1600.0 692.60 L1601.5 692.75 L1602.9 692.95 L1604.4 693.20 L1605.8 693.49 L1607.3 693.80 L1608.7 694.12 L1610.2 694.45 L1611.6 694.77 L1613.1 695.08 L1614.5 695.36 L1616.0 695.60 L1617.5 695.82 L1619.0 696.02 L1620.5 696.21 L1622.0 696.40 L1623.4 696.59 L1624.9 696.77 L1626.3 696.96 L1627.7 697.14 L1629.1 697.33 L1630.6 697.51 L1632.0 697.70 L1632.0 698.30 L1630.6 698.49 L1629.1 698.67 L1627.7 698.86 L1626.3 699.04 L1624.9 699.23 L1623.4 699.41 L1622.0 699.60 L1620.5 699.79 L1619.0 699.98 L1617.5 700.18 L1616.0 700.40 L1614.5 700.64 L1613.1 700.92 L1611.6 701.23 L1610.2 701.55 L1608.7 701.88 L1607.3 702.20 L1605.8 702.51 L1604.4 702.80 L1602.9 703.05 L1601.5 703.25 L1600.0 703.40 L1598.4 703.53 L1596.9 703.65 L1595.3 703.76 L1593.7 703.86 L1592.1 703.93 L1590.6 703.98 L1589.0 704.00 L1587.4 703.98 L1585.9 703.91 L1584.3 703.81 L1582.8 703.69 L1581.2 703.55 L1579.7 703.40 L1578.1 703.26 L1576.6 703.12 L1575.0 703.00 L1573.5 702.89 L1572.0 702.79 L1570.5 702.68 L1569.0 702.57 L1567.5 702.46 L1566.0 702.35 L1564.5 702.24 L1563.0 702.12 L1561.5 702.02 L1560.0 701.91 L1558.5 701.80 L1557.0 701.70 L1555.5 701.60 L1554.0 701.50 L1552.5 701.40 L1551.0 701.31 L1549.5 701.23 L1548.0 701.15 L1546.5 701.07 L1545.0 701.00 L1543.5 700.94 L1542.0 700.89 L1540.5 700.84 L1539.0 700.80 L1537.5 700.77 L1536.0 700.74 L1534.5 700.71 L1533.0 700.69 L1531.5 700.66 L1530.0 700.63 L1528.5 700.60 L1527.0 700.57 L1525.5 700.53 L1524.0 700.49 L1522.5 700.43 L1521.0 700.37 L1519.5 700.30 L1518.0 700.21 L1516.5 700.11 L1515.0 700.00 L1513.0 699.30 L1511.5 699.28 L1510.0 699.27 L1508.6 699.25 L1507.1 699.24 L1505.6 699.23 L1504.1 699.22 L1502.6 699.21 L1501.1 699.20 L1499.7 699.20 L1498.2 699.19 L1496.7 699.19 L1495.2 699.19 L1493.7 699.18 L1492.2 699.18 L1490.8 699.18 L1489.3 699.18 L1487.8 699.18 L1486.3 699.17 L1484.8 699.17 L1483.3 699.17 L1481.9 699.17 L1480.4 699.16 L1478.9 699.16 L1477.4 699.15 L1475.9 699.14 L1474.4 699.13 L1473.0 699.12 L1471.5 699.11 L1470.0 699.10 L1468.5 699.08 L1467.0 699.04 L1465.5 698.99 L1464.0 698.93 L1462.5 698.86 L1461.0 698.78 L1459.5 698.70 L1458.0 698.61 L1456.5 698.53 L1455.0 698.45 L1453.5 698.37 L1452.0 698.30 Z" fill="#1fc47c" stroke="#0a0a0a" stroke-width="1.4" stroke-linejoin="round"/>
<path d="M1521.0 697.23 L1522.5 697.17 L1524.0 697.11 L1525.5 697.07 L1527.0 697.03 L1528.5 697.00 L1530.0 696.97 L1531.5 696.94 L1533.0 696.91 L1534.5 696.89 L1536.0 696.86 L1537.5 696.83 L1539.0 696.80 L1540.5 696.76 L1542.0 696.71 L1543.5 696.66 L1545.0 696.60 L1546.5 696.53 L1548.0 696.45 L1549.5 696.37 L1551.0 696.29 L1552.5 696.20 L1554.0 696.10 L1555.5 696.00 L1557.0 695.90 L1558.5 695.80 L1560.0 695.69 L1561.5 695.58 L1563.0 695.48 L1564.5 695.36 L1566.0 695.25 L1567.5 695.14 L1569.0 695.03 L1570.5 694.92 L1572.0 694.81 L1573.5 694.71 L1575.0 694.60 L1576.6 694.48 L1578.1 694.34 L1579.7 694.20 L1581.2 694.05 L1582.8 693.91 L1584.3 693.79 L1585.9 693.69 L1587.4 693.62 L1589.0 693.60 L1590.6 693.62 L1592.1 693.67 L1593.7 693.74 L1595.3 693.84 L1596.9 693.95 L1598.4 694.07 L1600.0 694.20 L1601.5 694.35 L1602.9 694.55 L1604.4 694.80 L1605.8 695.09 L1607.3 695.40 L1608.7 695.72 L1610.2 696.05 L1611.6 696.37 L1613.1 696.68 L1614.5 696.96 L1616.0 697.20 L1616.0 698.80 L1614.5 699.04 L1613.1 699.32 L1611.6 699.63 L1610.2 699.95 L1608.7 700.28 L1607.3 700.60 L1605.8 700.91 L1604.4 701.20 L1602.9 701.45 L1601.5 701.65 L1600.0 701.80 L1598.4 701.93 L1596.9 702.05 L1595.3 702.16 L1593.7 702.26 L1592.1 702.33 L1590.6 702.38 L1589.0 702.40 L1587.4 702.38 L1585.9 702.31 L1584.3 702.21 L1582.8 702.09 L1581.2 701.95 L1579.7 701.80 L1578.1 701.66 L1576.6 701.52 L1575.0 701.40 L1573.5 701.29 L1572.0 701.19 L1570.5 701.08 L1569.0 700.97 L1567.5 700.86 L1566.0 700.75 L1564.5 700.64 L1563.0 700.52 L1561.5 700.42 L1560.0 700.31 L1558.5 700.20 L1557.0 700.10 L1555.5 700.00 L1554.0 699.90 L1552.5 699.80 L1551.0 699.71 L1549.5 699.63 L1548.0 699.55 L1546.5 699.47 L1545.0 699.40 L1543.5 699.34 L1542.0 699.29 L1540.5 699.24 L1539.0 699.20 L1537.5 699.17 L1536.0 699.14 L1534.5 699.11 L1533.0 699.09 L1531.5 699.06 L1530.0 699.03 L1528.5 699.00 L1527.0 698.97 L1525.5 698.93 L1524.0 698.89 L1522.5 698.83 L1521.0 698.77 Z" fill="none" stroke="#6df5b5" stroke-width="1"/>
<path d="M1573 693.4 V702.6" stroke="#0a0a0a" stroke-width="1.4" stroke-dasharray="3.4 2.3"/>
<circle cx="1545.4" cy="698" r="2.05" fill="#0a0a0a" stroke="#6df5b5" stroke-width="0.9"/>
<circle cx="1562.4" cy="698" r="2.05" fill="#0a0a0a" stroke="#6df5b5" stroke-width="0.9"/>
<circle cx="1566.4" cy="698" r="2.05" fill="#0a0a0a" stroke="#6df5b5" stroke-width="0.9"/>
<circle cx="1580.3" cy="698" r="2.05" fill="#0a0a0a" stroke="#6df5b5" stroke-width="0.9"/>
<circle cx="1586.4" cy="698" r="2.05" fill="#0a0a0a" stroke="#6df5b5" stroke-width="0.9"/>
<circle cx="1590.2" cy="698" r="2.05" fill="#0a0a0a" stroke="#6df5b5" stroke-width="0.9"/>
<circle cx="1594.6" cy="699.6" r="2.05" fill="#0a0a0a" stroke="#6df5b5" stroke-width="0.9"/>
<circle cx="1596.8" cy="696.4" r="2.05" fill="#0a0a0a" stroke="#6df5b5" stroke-width="0.9"/>
<path d="M1252 664.6 H1588.6" stroke="#0a0a0a" stroke-width="1.3"/>
<path d="M1252.5 658.60 L1254.0 658.59 L1255.5 658.59 L1257.0 658.58 L1258.4 658.57 L1259.9 658.56 L1261.4 658.56 L1262.9 658.55 L1264.4 658.54 L1265.9 658.53 L1267.3 658.52 L1268.8 658.52 L1270.3 658.51 L1271.8 658.50 L1273.3 658.49 L1274.8 658.48 L1276.2 658.48 L1277.7 658.47 L1279.2 658.46 L1280.7 658.45 L1282.2 658.45 L1283.7 658.44 L1285.2 658.43 L1286.6 658.43 L1288.1 658.42 L1289.6 658.42 L1291.1 658.41 L1292.6 658.41 L1294.1 658.41 L1295.5 658.40 L1297.0 658.40 L1298.5 658.40 L1300.0 658.40 L1301.5 658.40 L1303.0 658.40 L1304.5 658.40 L1306.1 658.41 L1307.6 658.41 L1309.1 658.42 L1310.6 658.42 L1312.1 658.43 L1313.6 658.44 L1315.1 658.45 L1316.7 658.46 L1318.2 658.47 L1319.7 658.48 L1321.2 658.49 L1322.7 658.51 L1324.2 658.52 L1325.7 658.54 L1327.3 658.55 L1328.8 658.57 L1330.3 658.59 L1331.8 658.61 L1333.3 658.63 L1334.8 658.65 L1336.3 658.68 L1337.9 658.70 L1339.4 658.73 L1340.9 658.75 L1342.4 658.78 L1343.9 658.81 L1345.4 658.84 L1346.9 658.87 L1348.5 658.90 L1350.0 658.93 L1351.5 658.97 L1353.0 659.00 L1354.5 659.05 L1355.9 659.14 L1357.4 659.27 L1358.8 659.41 L1360.3 659.58 L1361.8 659.76 L1363.2 659.96 L1364.7 660.15 L1366.2 660.35 L1367.6 660.53 L1369.1 660.71 L1370.5 660.87 L1372.0 661.00 L1373.5 661.12 L1374.9 661.25 L1376.4 661.38 L1377.8 661.50 L1379.3 661.63 L1380.8 661.74 L1382.2 661.86 L1383.7 661.96 L1385.2 662.06 L1386.6 662.14 L1388.1 662.21 L1389.5 662.26 L1391.0 662.30 L1392.5 662.33 L1394.1 662.36 L1395.6 662.38 L1397.1 662.41 L1398.6 662.43 L1400.2 662.45 L1401.7 662.47 L1403.2 662.49 L1404.7 662.51 L1406.3 662.53 L1407.8 662.54 L1409.3 662.55 L1410.8 662.57 L1412.4 662.58 L1413.9 662.58 L1415.4 662.59 L1416.9 662.60 L1418.5 662.60 L1420.0 662.60 L1421.5 662.59 L1422.9 662.58 L1424.4 662.56 L1425.9 662.53 L1427.4 662.49 L1428.8 662.45 L1430.3 662.40 L1431.8 662.35 L1433.2 662.30 L1434.7 662.25 L1436.2 662.20 L1437.6 662.16 L1439.1 662.12 L1440.6 662.08 L1442.1 662.04 L1443.5 662.02 L1445.0 662.00 L1446.5 661.99 L1448.0 661.97 L1449.6 661.96 L1451.1 661.95 L1452.6 661.94 L1454.1 661.92 L1455.6 661.91 L1457.2 661.90 L1458.7 661.89 L1460.2 661.88 L1461.7 661.87 L1463.2 661.86 L1464.8 661.85 L1466.3 661.84 L1467.8 661.84 L1469.3 661.83 L1470.8 661.82 L1472.4 661.82 L1473.9 661.81 L1475.4 661.81 L1476.9 661.81 L1478.4 661.80 L1480.0 661.80 L1481.5 661.80 L1483.0 661.80 L1484.5 661.81 L1485.9 661.85 L1487.4 661.91 L1488.9 661.98 L1490.3 662.07 L1491.8 662.17 L1493.3 662.28 L1494.7 662.40 L1496.2 662.53 L1497.7 662.65 L1499.1 662.77 L1500.6 662.89 L1502.1 663.01 L1503.5 663.11 L1505.0 663.20 L1506.5 663.29 L1508.0 663.37 L1509.5 663.45 L1511.0 663.53 L1512.5 663.61 L1514.0 663.69 L1515.5 663.76 L1517.0 663.84 L1518.5 663.92 L1520.0 663.99 L1521.5 664.07 L1523.0 664.14 L1524.5 664.22 L1526.0 664.30 L1526.0 664.90 L1524.5 664.98 L1523.0 665.06 L1521.5 665.13 L1520.0 665.21 L1518.5 665.28 L1517.0 665.36 L1515.5 665.44 L1514.0 665.51 L1512.5 665.59 L1511.0 665.67 L1509.5 665.75 L1508.0 665.83 L1506.5 665.91 L1505.0 666.00 L1503.5 666.09 L1502.1 666.19 L1500.6 666.31 L1499.1 666.43 L1497.7 666.55 L1496.2 666.67 L1494.7 666.80 L1493.3 666.92 L1491.8 667.03 L1490.3 667.13 L1488.9 667.22 L1487.4 667.29 L1485.9 667.35 L1484.5 667.39 L1483.0 667.40 L1481.5 667.40 L1480.0 667.40 L1478.4 667.40 L1476.9 667.39 L1475.4 667.39 L1473.9 667.39 L1472.4 667.38 L1470.8 667.38 L1469.3 667.37 L1467.8 667.36 L1466.3 667.36 L1464.8 667.35 L1463.2 667.34 L1461.7 667.33 L1460.2 667.32 L1458.7 667.31 L1457.2 667.30 L1455.6 667.29 L1454.1 667.28 L1452.6 667.26 L1451.1 667.25 L1449.6 667.24 L1448.0 667.23 L1446.5 667.21 L1445.0 667.20 L1443.5 667.18 L1442.1 667.16 L1440.6 667.12 L1439.1 667.08 L1437.6 667.04 L1436.2 667.00 L1434.7 666.95 L1433.2 666.90 L1431.8 666.85 L1430.3 666.80 L1428.8 666.75 L1427.4 666.71 L1425.9 666.67 L1424.4 666.64 L1422.9 666.62 L1421.5 666.61 L1420.0 666.60 L1418.5 666.60 L1416.9 666.60 L1415.4 666.61 L1413.9 666.62 L1412.4 666.62 L1410.8 666.63 L1409.3 666.65 L1407.8 666.66 L1406.3 666.67 L1404.7 666.69 L1403.2 666.71 L1401.7 666.73 L1400.2 666.75 L1398.6 666.77 L1397.1 666.79 L1395.6 666.82 L1394.1 666.84 L1392.5 666.87 L1391.0 666.90 L1389.5 666.94 L1388.1 666.99 L1386.6 667.06 L1385.2 667.14 L1383.7 667.24 L1382.2 667.34 L1380.8 667.46 L1379.3 667.57 L1377.8 667.70 L1376.4 667.82 L1374.9 667.95 L1373.5 668.08 L1372.0 668.20 L1370.5 668.33 L1369.1 668.49 L1367.6 668.67 L1366.2 668.85 L1364.7 669.05 L1363.2 669.24 L1361.8 669.44 L1360.3 669.62 L1358.8 669.79 L1357.4 669.93 L1355.9 670.06 L1354.5 670.15 L1353.0 670.20 L1351.5 670.23 L1350.0 670.27 L1348.5 670.30 L1346.9 670.33 L1345.4 670.36 L1343.9 670.39 L1342.4 670.42 L1340.9 670.45 L1339.4 670.47 L1337.9 670.50 L1336.3 670.52 L1334.8 670.55 L1333.3 670.57 L1331.8 670.59 L1330.3 670.61 L1328.8 670.63 L1327.3 670.65 L1325.7 670.66 L1324.2 670.68 L1322.7 670.69 L1321.2 670.71 L1319.7 670.72 L1318.2 670.73 L1316.7 670.74 L1315.1 670.75 L1313.6 670.76 L1312.1 670.77 L1310.6 670.78 L1309.1 670.78 L1307.6 670.79 L1306.1 670.79 L1304.5 670.80 L1303.0 670.80 L1301.5 670.80 L1300.0 670.80 L1298.5 670.80 L1297.0 670.80 L1295.5 670.80 L1294.1 670.79 L1292.6 670.79 L1291.1 670.79 L1289.6 670.78 L1288.1 670.78 L1286.6 670.77 L1285.2 670.77 L1283.7 670.76 L1282.2 670.75 L1280.7 670.75 L1279.2 670.74 L1277.7 670.73 L1276.2 670.73 L1274.8 670.72 L1273.3 670.71 L1271.8 670.70 L1270.3 670.69 L1268.8 670.68 L1267.3 670.68 L1265.9 670.67 L1264.4 670.66 L1262.9 670.65 L1261.4 670.64 L1259.9 670.64 L1258.4 670.63 L1257.0 670.62 L1255.5 670.61 L1254.0 670.61 L1252.5 670.60 Z" fill="#4c98f0" stroke="#0a0a0a" stroke-width="1.4" stroke-linejoin="round"/>
<path d="M1252.5 660.20 L1254.0 660.19 L1255.5 660.19 L1257.0 660.18 L1258.4 660.17 L1259.9 660.16 L1261.4 660.16 L1262.9 660.15 L1264.4 660.14 L1265.9 660.13 L1267.3 660.12 L1268.8 660.12 L1270.3 660.11 L1271.8 660.10 L1273.3 660.09 L1274.8 660.08 L1276.2 660.08 L1277.7 660.07 L1279.2 660.06 L1280.7 660.05 L1282.2 660.05 L1283.7 660.04 L1285.2 660.03 L1286.6 660.03 L1288.1 660.02 L1289.6 660.02 L1291.1 660.01 L1292.6 660.01 L1294.1 660.01 L1295.5 660.00 L1297.0 660.00 L1298.5 660.00 L1300.0 660.00 L1301.5 660.00 L1303.0 660.00 L1304.5 660.00 L1306.1 660.01 L1307.6 660.01 L1309.1 660.02 L1310.6 660.02 L1312.1 660.03 L1313.6 660.04 L1315.1 660.05 L1316.7 660.06 L1318.2 660.07 L1319.7 660.08 L1321.2 660.09 L1322.7 660.11 L1324.2 660.12 L1325.7 660.14 L1327.3 660.15 L1328.8 660.17 L1330.3 660.19 L1331.8 660.21 L1333.3 660.23 L1334.8 660.25 L1336.3 660.28 L1337.9 660.30 L1339.4 660.33 L1340.9 660.35 L1342.4 660.38 L1343.9 660.41 L1345.4 660.44 L1346.9 660.47 L1348.5 660.50 L1350.0 660.53 L1351.5 660.57 L1353.0 660.60 L1354.5 660.65 L1355.9 660.74 L1357.4 660.87 L1358.8 661.01 L1360.3 661.18 L1361.8 661.36 L1363.2 661.56 L1364.7 661.75 L1366.2 661.95 L1367.6 662.13 L1369.1 662.31 L1370.5 662.47 L1372.0 662.60 L1373.5 662.72 L1374.9 662.85 L1376.4 662.98 L1377.8 663.10 L1379.3 663.23 L1380.8 663.34 L1382.2 663.46 L1383.7 663.56 L1385.2 663.66 L1386.6 663.74 L1388.1 663.81 L1389.5 663.86 L1389.5 665.34 L1388.1 665.39 L1386.6 665.46 L1385.2 665.54 L1383.7 665.64 L1382.2 665.74 L1380.8 665.86 L1379.3 665.97 L1377.8 666.10 L1376.4 666.22 L1374.9 666.35 L1373.5 666.48 L1372.0 666.60 L1370.5 666.73 L1369.1 666.89 L1367.6 667.07 L1366.2 667.25 L1364.7 667.45 L1363.2 667.64 L1361.8 667.84 L1360.3 668.02 L1358.8 668.19 L1357.4 668.33 L1355.9 668.46 L1354.5 668.55 L1353.0 668.60 L1351.5 668.63 L1350.0 668.67 L1348.5 668.70 L1346.9 668.73 L1345.4 668.76 L1343.9 668.79 L1342.4 668.82 L1340.9 668.85 L1339.4 668.87 L1337.9 668.90 L1336.3 668.92 L1334.8 668.95 L1333.3 668.97 L1331.8 668.99 L1330.3 669.01 L1328.8 669.03 L1327.3 669.05 L1325.7 669.06 L1324.2 669.08 L1322.7 669.09 L1321.2 669.11 L1319.7 669.12 L1318.2 669.13 L1316.7 669.14 L1315.1 669.15 L1313.6 669.16 L1312.1 669.17 L1310.6 669.18 L1309.1 669.18 L1307.6 669.19 L1306.1 669.19 L1304.5 669.20 L1303.0 669.20 L1301.5 669.20 L1300.0 669.20 L1298.5 669.20 L1297.0 669.20 L1295.5 669.20 L1294.1 669.19 L1292.6 669.19 L1291.1 669.19 L1289.6 669.18 L1288.1 669.18 L1286.6 669.17 L1285.2 669.17 L1283.7 669.16 L1282.2 669.15 L1280.7 669.15 L1279.2 669.14 L1277.7 669.13 L1276.2 669.12 L1274.8 669.12 L1273.3 669.11 L1271.8 669.10 L1270.3 669.09 L1268.8 669.08 L1267.3 669.08 L1265.9 669.07 L1264.4 669.06 L1262.9 669.05 L1261.4 669.04 L1259.9 669.04 L1258.4 669.03 L1257.0 669.02 L1255.5 669.01 L1254.0 669.01 L1252.5 669.00 Z" fill="none" stroke="#a6e2ff" stroke-width="1"/>
<path d="M1434.7 663.85 L1436.2 663.80 L1437.6 663.76 L1439.1 663.72 L1440.6 663.68 L1442.1 663.64 L1443.5 663.62 L1445.0 663.60 L1446.5 663.59 L1448.0 663.57 L1449.6 663.56 L1451.1 663.55 L1452.6 663.54 L1454.1 663.52 L1455.6 663.51 L1457.2 663.50 L1458.7 663.49 L1460.2 663.48 L1461.7 663.47 L1463.2 663.46 L1464.8 663.45 L1466.3 663.44 L1467.8 663.44 L1469.3 663.43 L1470.8 663.42 L1472.4 663.42 L1473.9 663.41 L1475.4 663.41 L1476.9 663.41 L1478.4 663.40 L1480.0 663.40 L1481.5 663.40 L1483.0 663.40 L1484.5 663.41 L1485.9 663.45 L1487.4 663.51 L1488.9 663.58 L1490.3 663.67 L1491.8 663.77 L1493.3 663.88 L1493.3 665.32 L1491.8 665.43 L1490.3 665.53 L1488.9 665.62 L1487.4 665.69 L1485.9 665.75 L1484.5 665.79 L1483.0 665.80 L1481.5 665.80 L1480.0 665.80 L1478.4 665.80 L1476.9 665.79 L1475.4 665.79 L1473.9 665.79 L1472.4 665.78 L1470.8 665.78 L1469.3 665.77 L1467.8 665.76 L1466.3 665.76 L1464.8 665.75 L1463.2 665.74 L1461.7 665.73 L1460.2 665.72 L1458.7 665.71 L1457.2 665.70 L1455.6 665.69 L1454.1 665.68 L1452.6 665.66 L1451.1 665.65 L1449.6 665.64 L1448.0 665.63 L1446.5 665.61 L1445.0 665.60 L1443.5 665.58 L1442.1 665.56 L1440.6 665.52 L1439.1 665.48 L1437.6 665.44 L1436.2 665.40 L1434.7 665.35 Z" fill="none" stroke="#a6e2ff" stroke-width="1"/>
<path d="M1326.7 659.0 V670.2" stroke="#0a0a0a" stroke-width="1.4" stroke-dasharray="4.2 2.8"/>
<path d="M1444 662.4 V666.8000000000001" stroke="#0a0a0a" stroke-width="1.4" stroke-dasharray="1.7 1.1"/>
<path d="M1484 662.2 V667.0" stroke="#0a0a0a" stroke-width="1.4" stroke-dasharray="1.8 1.2"/>
<circle cx="1262" cy="664.6" r="2.05" fill="#0a0a0a" stroke="#a6e2ff" stroke-width="0.9"/>
<circle cx="1266.5" cy="664.6" r="2.05" fill="#0a0a0a" stroke="#a6e2ff" stroke-width="0.9"/>
<circle cx="1278.5" cy="664.6" r="2.05" fill="#0a0a0a" stroke="#a6e2ff" stroke-width="0.9"/>
<circle cx="1307.7" cy="664.6" r="2.05" fill="#0a0a0a" stroke="#a6e2ff" stroke-width="0.9"/>
<circle cx="1345.5" cy="664.6" r="2.05" fill="#0a0a0a" stroke="#a6e2ff" stroke-width="0.9"/>
<circle cx="1351.3" cy="664.6" r="2.05" fill="#0a0a0a" stroke="#a6e2ff" stroke-width="0.9"/>
<path d="M1252 644.5 H1516.3" stroke="#0a0a0a" stroke-width="1.3"/>
<path d="M1252.5 641.50 L1254.0 641.50 L1255.5 641.50 L1257.0 641.50 L1258.4 641.50 L1259.9 641.50 L1261.4 641.50 L1262.9 641.50 L1264.4 641.50 L1265.9 641.50 L1267.3 641.50 L1268.8 641.50 L1270.3 641.50 L1271.8 641.50 L1273.3 641.50 L1274.8 641.50 L1276.2 641.50 L1277.7 641.50 L1279.2 641.50 L1280.7 641.50 L1282.2 641.50 L1283.7 641.50 L1285.2 641.50 L1286.6 641.50 L1288.1 641.50 L1289.6 641.50 L1291.1 641.50 L1292.6 641.50 L1294.1 641.50 L1295.5 641.50 L1297.0 641.50 L1298.5 641.50 L1300.0 641.50 L1301.5 641.48 L1303.1 641.43 L1304.6 641.34 L1306.2 641.23 L1307.7 641.10 L1309.2 640.96 L1310.8 640.80 L1312.3 640.64 L1313.8 640.48 L1315.4 640.32 L1316.9 640.16 L1318.5 640.02 L1320.0 639.90 L1321.5 639.79 L1323.0 639.66 L1324.5 639.53 L1326.0 639.40 L1327.5 639.27 L1329.0 639.14 L1330.5 639.01 L1332.0 638.89 L1333.5 638.78 L1335.0 638.69 L1336.5 638.61 L1338.0 638.55 L1339.5 638.51 L1341.0 638.50 L1342.5 638.50 L1343.9 638.52 L1345.4 638.54 L1346.8 638.57 L1348.3 638.61 L1349.8 638.66 L1351.2 638.71 L1352.7 638.76 L1354.2 638.83 L1355.6 638.89 L1357.1 638.96 L1358.5 639.03 L1360.0 639.10 L1361.5 639.19 L1363.1 639.32 L1364.6 639.47 L1366.2 639.65 L1367.7 639.84 L1369.2 640.05 L1370.8 640.27 L1372.3 640.49 L1373.8 640.71 L1375.4 640.93 L1376.9 641.13 L1378.5 641.33 L1380.0 641.50 L1381.5 641.66 L1382.9 641.84 L1384.4 642.02 L1385.8 642.20 L1387.3 642.39 L1388.8 642.57 L1390.2 642.73 L1391.7 642.89 L1393.2 643.03 L1394.6 643.14 L1396.1 643.23 L1397.5 643.28 L1399.0 643.30 L1400.5 643.30 L1402.0 643.30 L1403.6 643.30 L1405.1 643.30 L1406.6 643.30 L1408.1 643.30 L1409.6 643.30 L1411.1 643.30 L1412.7 643.30 L1414.2 643.30 L1415.7 643.30 L1417.2 643.30 L1418.7 643.30 L1420.3 643.30 L1421.8 643.30 L1423.3 643.30 L1424.8 643.30 L1426.3 643.30 L1427.9 643.30 L1429.4 643.30 L1430.9 643.30 L1432.4 643.30 L1433.9 643.30 L1435.4 643.30 L1437.0 643.30 L1438.5 643.30 L1440.0 643.30 L1441.5 643.30 L1443.0 643.31 L1444.6 643.32 L1446.1 643.34 L1447.6 643.36 L1449.1 643.39 L1450.6 643.42 L1452.2 643.45 L1453.7 643.49 L1455.2 643.53 L1456.7 643.57 L1458.2 643.62 L1459.8 643.66 L1461.3 643.71 L1462.8 643.75 L1464.3 643.80 L1465.8 643.85 L1467.4 643.90 L1468.9 643.94 L1470.4 643.99 L1471.9 644.04 L1473.4 644.08 L1475.0 644.12 L1476.5 644.16 L1478.0 644.20 L1478.0 644.80 L1476.5 644.84 L1475.0 644.88 L1473.4 644.92 L1471.9 644.96 L1470.4 645.01 L1468.9 645.06 L1467.4 645.10 L1465.8 645.15 L1464.3 645.20 L1462.8 645.25 L1461.3 645.29 L1459.8 645.34 L1458.2 645.38 L1456.7 645.43 L1455.2 645.47 L1453.7 645.51 L1452.2 645.55 L1450.6 645.58 L1449.1 645.61 L1447.6 645.64 L1446.1 645.66 L1444.6 645.68 L1443.0 645.69 L1441.5 645.70 L1440.0 645.70 L1438.5 645.70 L1437.0 645.70 L1435.4 645.70 L1433.9 645.70 L1432.4 645.70 L1430.9 645.70 L1429.4 645.70 L1427.9 645.70 L1426.3 645.70 L1424.8 645.70 L1423.3 645.70 L1421.8 645.70 L1420.3 645.70 L1418.7 645.70 L1417.2 645.70 L1415.7 645.70 L1414.2 645.70 L1412.7 645.70 L1411.1 645.70 L1409.6 645.70 L1408.1 645.70 L1406.6 645.70 L1405.1 645.70 L1403.6 645.70 L1402.0 645.70 L1400.5 645.70 L1399.0 645.70 L1397.5 645.72 L1396.1 645.77 L1394.6 645.86 L1393.2 645.97 L1391.7 646.11 L1390.2 646.27 L1388.8 646.43 L1387.3 646.61 L1385.8 646.80 L1384.4 646.98 L1382.9 647.16 L1381.5 647.34 L1380.0 647.50 L1378.5 647.67 L1376.9 647.87 L1375.4 648.07 L1373.8 648.29 L1372.3 648.51 L1370.8 648.73 L1369.2 648.95 L1367.7 649.16 L1366.2 649.35 L1364.6 649.53 L1363.1 649.68 L1361.5 649.81 L1360.0 649.90 L1358.5 649.97 L1357.1 650.04 L1355.6 650.11 L1354.2 650.17 L1352.7 650.24 L1351.2 650.29 L1349.8 650.34 L1348.3 650.39 L1346.8 650.43 L1345.4 650.46 L1343.9 650.48 L1342.5 650.50 L1341.0 650.50 L1339.5 650.49 L1338.0 650.45 L1336.5 650.39 L1335.0 650.31 L1333.5 650.22 L1332.0 650.11 L1330.5 649.99 L1329.0 649.86 L1327.5 649.73 L1326.0 649.60 L1324.5 649.47 L1323.0 649.34 L1321.5 649.21 L1320.0 649.10 L1318.5 648.98 L1316.9 648.84 L1315.4 648.68 L1313.8 648.52 L1312.3 648.36 L1310.8 648.20 L1309.2 648.04 L1307.7 647.90 L1306.2 647.77 L1304.6 647.66 L1303.1 647.57 L1301.5 647.52 L1300.0 647.50 L1298.5 647.50 L1297.0 647.50 L1295.5 647.50 L1294.1 647.50 L1292.6 647.50 L1291.1 647.50 L1289.6 647.50 L1288.1 647.50 L1286.6 647.50 L1285.2 647.50 L1283.7 647.50 L1282.2 647.50 L1280.7 647.50 L1279.2 647.50 L1277.7 647.50 L1276.2 647.50 L1274.8 647.50 L1273.3 647.50 L1271.8 647.50 L1270.3 647.50 L1268.8 647.50 L1267.3 647.50 L1265.9 647.50 L1264.4 647.50 L1262.9 647.50 L1261.4 647.50 L1259.9 647.50 L1258.4 647.50 L1257.0 647.50 L1255.5 647.50 L1254.0 647.50 L1252.5 647.50 Z" fill="#f63e3e" stroke="#0a0a0a" stroke-width="1.4" stroke-linejoin="round"/>
<path d="M1252.5 643.10 L1254.0 643.10 L1255.5 643.10 L1257.0 643.10 L1258.4 643.10 L1259.9 643.10 L1261.4 643.10 L1262.9 643.10 L1264.4 643.10 L1265.9 643.10 L1267.3 643.10 L1268.8 643.10 L1270.3 643.10 L1271.8 643.10 L1273.3 643.10 L1274.8 643.10 L1276.2 643.10 L1277.7 643.10 L1279.2 643.10 L1280.7 643.10 L1282.2 643.10 L1283.7 643.10 L1285.2 643.10 L1286.6 643.10 L1288.1 643.10 L1289.6 643.10 L1291.1 643.10 L1292.6 643.10 L1294.1 643.10 L1295.5 643.10 L1297.0 643.10 L1298.5 643.10 L1300.0 643.10 L1301.5 643.08 L1303.1 643.03 L1304.6 642.94 L1306.2 642.83 L1307.7 642.70 L1309.2 642.56 L1310.8 642.40 L1312.3 642.24 L1313.8 642.08 L1315.4 641.92 L1316.9 641.76 L1318.5 641.62 L1320.0 641.50 L1321.5 641.39 L1323.0 641.26 L1324.5 641.13 L1326.0 641.00 L1327.5 640.87 L1329.0 640.74 L1330.5 640.61 L1332.0 640.49 L1333.5 640.38 L1335.0 640.29 L1336.5 640.21 L1338.0 640.15 L1339.5 640.11 L1341.0 640.10 L1342.5 640.10 L1343.9 640.12 L1345.4 640.14 L1346.8 640.17 L1348.3 640.21 L1349.8 640.26 L1351.2 640.31 L1352.7 640.36 L1354.2 640.43 L1355.6 640.49 L1357.1 640.56 L1358.5 640.63 L1360.0 640.70 L1361.5 640.79 L1363.1 640.92 L1364.6 641.07 L1366.2 641.25 L1367.7 641.44 L1369.2 641.65 L1370.8 641.87 L1372.3 642.09 L1373.8 642.31 L1375.4 642.53 L1376.9 642.73 L1378.5 642.93 L1380.0 643.10 L1381.5 643.26 L1382.9 643.44 L1384.4 643.62 L1384.4 645.38 L1382.9 645.56 L1381.5 645.74 L1380.0 645.90 L1378.5 646.07 L1376.9 646.27 L1375.4 646.47 L1373.8 646.69 L1372.3 646.91 L1370.8 647.13 L1369.2 647.35 L1367.7 647.56 L1366.2 647.75 L1364.6 647.93 L1363.1 648.08 L1361.5 648.21 L1360.0 648.30 L1358.5 648.37 L1357.1 648.44 L1355.6 648.51 L1354.2 648.57 L1352.7 648.64 L1351.2 648.69 L1349.8 648.74 L1348.3 648.79 L1346.8 648.83 L1345.4 648.86 L1343.9 648.88 L1342.5 648.90 L1341.0 648.90 L1339.5 648.89 L1338.0 648.85 L1336.5 648.79 L1335.0 648.71 L1333.5 648.62 L1332.0 648.51 L1330.5 648.39 L1329.0 648.26 L1327.5 648.13 L1326.0 648.00 L1324.5 647.87 L1323.0 647.74 L1321.5 647.61 L1320.0 647.50 L1318.5 647.38 L1316.9 647.24 L1315.4 647.08 L1313.8 646.92 L1312.3 646.76 L1310.8 646.60 L1309.2 646.44 L1307.7 646.30 L1306.2 646.17 L1304.6 646.06 L1303.1 645.97 L1301.5 645.92 L1300.0 645.90 L1298.5 645.90 L1297.0 645.90 L1295.5 645.90 L1294.1 645.90 L1292.6 645.90 L1291.1 645.90 L1289.6 645.90 L1288.1 645.90 L1286.6 645.90 L1285.2 645.90 L1283.7 645.90 L1282.2 645.90 L1280.7 645.90 L1279.2 645.90 L1277.7 645.90 L1276.2 645.90 L1274.8 645.90 L1273.3 645.90 L1271.8 645.90 L1270.3 645.90 L1268.8 645.90 L1267.3 645.90 L1265.9 645.90 L1264.4 645.90 L1262.9 645.90 L1261.4 645.90 L1259.9 645.90 L1258.4 645.90 L1257.0 645.90 L1255.5 645.90 L1254.0 645.90 L1252.5 645.90 Z" fill="none" stroke="#ff8a8a" stroke-width="1"/>
<path d="M1341 638.9 V650.1" stroke="#0a0a0a" stroke-width="1.4" stroke-dasharray="4.2 2.8"/>
<circle cx="1268.4" cy="644.5" r="2.05" fill="#0a0a0a" stroke="#ff8a8a" stroke-width="0.9"/>
<circle cx="1284.4" cy="644.5" r="2.05" fill="#0a0a0a" stroke="#ff8a8a" stroke-width="0.9"/>
<circle cx="1319" cy="644.5" r="2.05" fill="#0a0a0a" stroke="#ff8a8a" stroke-width="0.9"/>
<circle cx="1324.5" cy="644.5" r="2.05" fill="#0a0a0a" stroke="#ff8a8a" stroke-width="0.9"/>
<circle cx="1333.6" cy="644.5" r="2.05" fill="#0a0a0a" stroke="#ff8a8a" stroke-width="0.9"/>
<circle cx="1348.7" cy="642.5" r="2.05" fill="#0a0a0a" stroke="#ff8a8a" stroke-width="0.9"/>
<circle cx="1347.7" cy="646.5" r="2.05" fill="#0a0a0a" stroke="#ff8a8a" stroke-width="0.9"/>
<circle cx="1362.8" cy="644.5" r="2.05" fill="#0a0a0a" stroke="#ff8a8a" stroke-width="0.9"/>
<circle cx="1368.5" cy="644.5" r="2.05" fill="#0a0a0a" stroke="#ff8a8a" stroke-width="0.9"/>
<path d="M1254 624.8 H1426" stroke="#0a0a0a" stroke-width="1.5"/>
<path d="M1260.0 624.50 L1261.5 623.70 L1263.0 622.81 L1264.5 622.10 L1266.0 621.80 L1267.5 622.17 L1269.0 623.00 L1270.5 623.82 L1272.0 624.20 L1273.3 624.20 L1274.7 624.20 L1276.0 624.20 L1277.4 623.97 L1278.9 623.36 L1280.3 622.49 L1281.8 621.50 L1283.2 620.51 L1284.6 619.64 L1286.1 619.03 L1287.5 618.80 L1289.0 619.02 L1290.5 619.60 L1292.0 620.45 L1293.5 621.46 L1295.0 622.54 L1296.5 623.59 L1298.0 624.50 L1298.0 625.10 L1296.5 626.01 L1295.0 627.06 L1293.5 628.14 L1292.0 629.15 L1290.5 630.00 L1289.0 630.58 L1287.5 630.80 L1286.1 630.57 L1284.6 629.96 L1283.2 629.09 L1281.8 628.10 L1280.3 627.11 L1278.9 626.24 L1277.4 625.63 L1276.0 625.40 L1274.7 625.40 L1273.3 625.40 L1272.0 625.40 L1270.5 625.77 L1269.0 626.60 L1267.5 627.42 L1266.0 627.80 L1264.5 627.50 L1263.0 626.79 L1261.5 625.90 L1260.0 625.10 Z" fill="#1fc47c" stroke="#0a0a0a" stroke-width="1.4" stroke-linejoin="round"/>
<path d="M1264.5 623.70 L1266.0 623.40 L1267.5 623.77 L1267.5 625.82 L1266.0 626.20 L1264.5 625.90 Z" fill="none" stroke="#6df5b5" stroke-width="1"/>
<path d="M1280.3 624.09 L1281.8 623.10 L1283.2 622.11 L1284.6 621.24 L1286.1 620.63 L1287.5 620.40 L1289.0 620.62 L1290.5 621.20 L1292.0 622.05 L1293.5 623.06 L1293.5 626.54 L1292.0 627.55 L1290.5 628.40 L1289.0 628.98 L1287.5 629.20 L1286.1 628.97 L1284.6 628.36 L1283.2 627.49 L1281.8 626.50 L1280.3 625.51 Z" fill="none" stroke="#6df5b5" stroke-width="1"/>
<circle cx="1283" cy="624.8" r="2.05" fill="#0a0a0a" stroke="#6df5b5" stroke-width="0.9"/>
<circle cx="1287" cy="624.8" r="2.05" fill="#0a0a0a" stroke="#6df5b5" stroke-width="0.9"/>
<circle cx="1289" cy="622.3" r="2.05" fill="#0a0a0a" stroke="#6df5b5" stroke-width="0.9"/>
<circle cx="1292" cy="626.3" r="2.05" fill="#0a0a0a" stroke="#6df5b5" stroke-width="0.9"/>
<circle cx="1286" cy="627.8" r="2.05" fill="#0a0a0a" stroke="#6df5b5" stroke-width="0.9"/>
<path d="M1330.0 624.50 L1334.0 623.50 L1338.0 624.50 L1338.0 625.10 L1334.0 626.10 L1330.0 625.10 Z" fill="#1fc47c" stroke="#0a0a0a" stroke-width="1.4" stroke-linejoin="round"/>
<path d="M1410.0 624.50 L1414.0 623.50 L1418.0 624.50 L1418.0 625.10 L1414.0 626.10 L1410.0 625.10 Z" fill="#1fc47c" stroke="#0a0a0a" stroke-width="1.4" stroke-linejoin="round"/>
<path d="M1252 591.4 H1636" stroke="#0a0a0a" stroke-width="1.3"/>
<path d="M1252.5 585.40 L1254.0 585.41 L1255.5 585.42 L1257.1 585.42 L1258.6 585.43 L1260.1 585.44 L1261.6 585.44 L1263.2 585.45 L1264.7 585.46 L1266.2 585.46 L1267.7 585.47 L1269.2 585.48 L1270.8 585.48 L1272.3 585.49 L1273.8 585.50 L1275.3 585.51 L1276.9 585.52 L1278.4 585.53 L1279.9 585.54 L1281.4 585.55 L1283.0 585.57 L1284.5 585.58 L1286.0 585.60 L1287.5 585.63 L1289.0 585.68 L1290.5 585.75 L1292.0 585.83 L1293.5 585.93 L1295.0 586.04 L1296.5 586.16 L1298.0 586.29 L1299.5 586.43 L1301.0 586.57 L1302.5 586.71 L1304.0 586.86 L1305.5 587.00 L1307.0 587.14 L1308.5 587.27 L1310.0 587.40 L1311.5 587.52 L1312.9 587.65 L1314.4 587.77 L1315.9 587.90 L1317.4 588.04 L1318.8 588.17 L1320.3 588.30 L1321.8 588.44 L1323.2 588.57 L1324.7 588.71 L1326.2 588.84 L1327.6 588.98 L1329.1 589.11 L1330.6 589.24 L1332.1 589.36 L1333.5 589.48 L1335.0 589.60 L1336.5 589.72 L1338.0 589.86 L1339.5 590.00 L1341.0 590.14 L1342.5 590.28 L1344.0 590.42 L1345.5 590.56 L1347.0 590.68 L1348.5 590.80 L1350.0 590.90 L1351.5 590.98 L1353.0 591.05 L1354.5 591.09 L1356.0 591.10 L1357.5 591.10 L1359.0 591.10 L1360.5 591.10 L1362.1 591.10 L1363.6 591.10 L1365.1 591.10 L1366.6 591.10 L1368.1 591.10 L1369.6 591.10 L1371.1 591.10 L1372.6 591.10 L1374.2 591.10 L1375.7 591.10 L1377.2 591.10 L1378.7 591.10 L1380.2 591.10 L1381.7 591.10 L1383.2 591.10 L1384.7 591.10 L1386.3 591.10 L1387.8 591.10 L1389.3 591.10 L1390.8 591.10 L1392.3 591.10 L1393.8 591.10 L1395.3 591.10 L1396.8 591.10 L1398.4 591.10 L1399.9 591.10 L1401.4 591.10 L1402.9 591.10 L1404.4 591.10 L1405.9 591.10 L1407.4 591.10 L1408.9 591.10 L1410.5 591.10 L1412.0 591.10 L1413.5 591.10 L1415.0 591.10 L1416.5 591.09 L1417.9 591.07 L1419.4 591.03 L1420.9 590.98 L1422.4 590.91 L1423.8 590.84 L1425.3 590.76 L1426.8 590.67 L1428.2 590.58 L1429.7 590.48 L1431.2 590.38 L1432.6 590.27 L1434.1 590.17 L1435.6 590.07 L1437.1 589.98 L1438.5 589.89 L1440.0 589.80 L1441.5 589.71 L1443.0 589.63 L1444.5 589.53 L1446.0 589.44 L1447.5 589.34 L1449.0 589.24 L1450.5 589.14 L1452.0 589.04 L1453.5 588.94 L1455.0 588.84 L1456.5 588.74 L1458.0 588.65 L1459.5 588.55 L1461.0 588.46 L1462.5 588.37 L1464.0 588.29 L1465.5 588.21 L1467.0 588.13 L1468.5 588.06 L1470.0 588.00 L1471.5 587.94 L1472.9 587.88 L1474.4 587.81 L1475.8 587.75 L1477.3 587.69 L1478.8 587.63 L1480.2 587.58 L1481.7 587.53 L1483.2 587.49 L1484.6 587.45 L1486.1 587.42 L1487.5 587.41 L1489.0 587.40 L1490.5 587.41 L1492.0 587.43 L1493.5 587.46 L1495.0 587.50 L1496.5 587.55 L1498.0 587.61 L1499.5 587.68 L1501.0 587.75 L1502.5 587.82 L1504.0 587.90 L1505.5 587.98 L1507.0 588.05 L1508.5 588.13 L1510.0 588.20 L1511.5 588.27 L1513.0 588.35 L1514.5 588.43 L1516.0 588.52 L1517.5 588.60 L1519.0 588.70 L1520.5 588.79 L1522.0 588.89 L1523.5 588.98 L1525.0 589.08 L1526.5 589.18 L1528.0 589.28 L1529.5 589.38 L1531.0 589.48 L1532.5 589.57 L1534.0 589.66 L1535.5 589.75 L1537.0 589.84 L1538.5 589.92 L1540.0 590.00 L1541.5 590.07 L1542.9 590.14 L1544.4 590.21 L1545.9 590.28 L1547.4 590.35 L1548.8 590.41 L1550.3 590.48 L1551.8 590.54 L1553.2 590.60 L1554.7 590.66 L1556.2 590.72 L1557.6 590.79 L1559.1 590.85 L1560.6 590.91 L1562.1 590.97 L1563.5 591.04 L1565.0 591.10 L1565.0 591.70 L1563.5 591.76 L1562.1 591.83 L1560.6 591.89 L1559.1 591.95 L1557.6 592.01 L1556.2 592.08 L1554.7 592.14 L1553.2 592.20 L1551.8 592.26 L1550.3 592.32 L1548.8 592.39 L1547.4 592.45 L1545.9 592.52 L1544.4 592.59 L1542.9 592.66 L1541.5 592.73 L1540.0 592.80 L1538.5 592.88 L1537.0 592.96 L1535.5 593.05 L1534.0 593.14 L1532.5 593.23 L1531.0 593.32 L1529.5 593.42 L1528.0 593.52 L1526.5 593.62 L1525.0 593.72 L1523.5 593.82 L1522.0 593.91 L1520.5 594.01 L1519.0 594.10 L1517.5 594.20 L1516.0 594.28 L1514.5 594.37 L1513.0 594.45 L1511.5 594.53 L1510.0 594.60 L1508.5 594.67 L1507.0 594.75 L1505.5 594.82 L1504.0 594.90 L1502.5 594.98 L1501.0 595.05 L1499.5 595.12 L1498.0 595.19 L1496.5 595.25 L1495.0 595.30 L1493.5 595.34 L1492.0 595.37 L1490.5 595.39 L1489.0 595.40 L1487.5 595.39 L1486.1 595.38 L1484.6 595.35 L1483.2 595.31 L1481.7 595.27 L1480.2 595.22 L1478.8 595.17 L1477.3 595.11 L1475.8 595.05 L1474.4 594.99 L1472.9 594.92 L1471.5 594.86 L1470.0 594.80 L1468.5 594.74 L1467.0 594.67 L1465.5 594.59 L1464.0 594.51 L1462.5 594.43 L1461.0 594.34 L1459.5 594.25 L1458.0 594.15 L1456.5 594.06 L1455.0 593.96 L1453.5 593.86 L1452.0 593.76 L1450.5 593.66 L1449.0 593.56 L1447.5 593.46 L1446.0 593.36 L1444.5 593.27 L1443.0 593.17 L1441.5 593.09 L1440.0 593.00 L1438.5 592.91 L1437.1 592.82 L1435.6 592.73 L1434.1 592.63 L1432.6 592.53 L1431.2 592.42 L1429.7 592.32 L1428.2 592.22 L1426.8 592.13 L1425.3 592.04 L1423.8 591.96 L1422.4 591.89 L1420.9 591.82 L1419.4 591.77 L1417.9 591.73 L1416.5 591.71 L1415.0 591.70 L1413.5 591.70 L1412.0 591.70 L1410.5 591.70 L1408.9 591.70 L1407.4 591.70 L1405.9 591.70 L1404.4 591.70 L1402.9 591.70 L1401.4 591.70 L1399.9 591.70 L1398.4 591.70 L1396.8 591.70 L1395.3 591.70 L1393.8 591.70 L1392.3 591.70 L1390.8 591.70 L1389.3 591.70 L1387.8 591.70 L1386.3 591.70 L1384.7 591.70 L1383.2 591.70 L1381.7 591.70 L1380.2 591.70 L1378.7 591.70 L1377.2 591.70 L1375.7 591.70 L1374.2 591.70 L1372.6 591.70 L1371.1 591.70 L1369.6 591.70 L1368.1 591.70 L1366.6 591.70 L1365.1 591.70 L1363.6 591.70 L1362.1 591.70 L1360.5 591.70 L1359.0 591.70 L1357.5 591.70 L1356.0 591.70 L1354.5 591.71 L1353.0 591.75 L1351.5 591.82 L1350.0 591.90 L1348.5 592.00 L1347.0 592.12 L1345.5 592.24 L1344.0 592.38 L1342.5 592.52 L1341.0 592.66 L1339.5 592.80 L1338.0 592.94 L1336.5 593.08 L1335.0 593.20 L1333.5 593.32 L1332.1 593.44 L1330.6 593.56 L1329.1 593.69 L1327.6 593.82 L1326.2 593.96 L1324.7 594.09 L1323.2 594.23 L1321.8 594.36 L1320.3 594.50 L1318.8 594.63 L1317.4 594.76 L1315.9 594.90 L1314.4 595.03 L1312.9 595.15 L1311.5 595.28 L1310.0 595.40 L1308.5 595.53 L1307.0 595.66 L1305.5 595.80 L1304.0 595.94 L1302.5 596.09 L1301.0 596.23 L1299.5 596.37 L1298.0 596.51 L1296.5 596.64 L1295.0 596.76 L1293.5 596.87 L1292.0 596.97 L1290.5 597.05 L1289.0 597.12 L1287.5 597.17 L1286.0 597.20 L1284.5 597.22 L1283.0 597.23 L1281.4 597.25 L1279.9 597.26 L1278.4 597.27 L1276.9 597.28 L1275.3 597.29 L1273.8 597.30 L1272.3 597.31 L1270.8 597.32 L1269.2 597.32 L1267.7 597.33 L1266.2 597.34 L1264.7 597.34 L1263.2 597.35 L1261.6 597.36 L1260.1 597.36 L1258.6 597.37 L1257.1 597.38 L1255.5 597.38 L1254.0 597.39 L1252.5 597.40 Z" fill="#4c98f0" stroke="#0a0a0a" stroke-width="1.4" stroke-linejoin="round"/>
<path d="M1252.5 587.00 L1254.0 587.01 L1255.5 587.02 L1257.1 587.02 L1258.6 587.03 L1260.1 587.04 L1261.6 587.04 L1263.2 587.05 L1264.7 587.06 L1266.2 587.06 L1267.7 587.07 L1269.2 587.08 L1270.8 587.08 L1272.3 587.09 L1273.8 587.10 L1275.3 587.11 L1276.9 587.12 L1278.4 587.13 L1279.9 587.14 L1281.4 587.15 L1283.0 587.17 L1284.5 587.18 L1286.0 587.20 L1287.5 587.23 L1289.0 587.28 L1290.5 587.35 L1292.0 587.43 L1293.5 587.53 L1295.0 587.64 L1296.5 587.76 L1298.0 587.89 L1299.5 588.03 L1301.0 588.17 L1302.5 588.31 L1304.0 588.46 L1305.5 588.60 L1307.0 588.74 L1308.5 588.87 L1310.0 589.00 L1311.5 589.12 L1312.9 589.25 L1314.4 589.37 L1315.9 589.50 L1317.4 589.64 L1318.8 589.77 L1320.3 589.90 L1321.8 590.04 L1323.2 590.17 L1324.7 590.31 L1326.2 590.44 L1327.6 590.58 L1327.6 592.22 L1326.2 592.36 L1324.7 592.49 L1323.2 592.63 L1321.8 592.76 L1320.3 592.90 L1318.8 593.03 L1317.4 593.16 L1315.9 593.30 L1314.4 593.43 L1312.9 593.55 L1311.5 593.68 L1310.0 593.80 L1308.5 593.93 L1307.0 594.06 L1305.5 594.20 L1304.0 594.34 L1302.5 594.49 L1301.0 594.63 L1299.5 594.77 L1298.0 594.91 L1296.5 595.04 L1295.0 595.16 L1293.5 595.27 L1292.0 595.37 L1290.5 595.45 L1289.0 595.52 L1287.5 595.57 L1286.0 595.60 L1284.5 595.62 L1283.0 595.63 L1281.4 595.65 L1279.9 595.66 L1278.4 595.67 L1276.9 595.68 L1275.3 595.69 L1273.8 595.70 L1272.3 595.71 L1270.8 595.72 L1269.2 595.72 L1267.7 595.73 L1266.2 595.74 L1264.7 595.74 L1263.2 595.75 L1261.6 595.76 L1260.1 595.76 L1258.6 595.77 L1257.1 595.78 L1255.5 595.78 L1254.0 595.79 L1252.5 595.80 Z" fill="none" stroke="#a6e2ff" stroke-width="1"/>
<path d="M1452.0 590.64 L1453.5 590.54 L1455.0 590.44 L1456.5 590.34 L1458.0 590.25 L1459.5 590.15 L1461.0 590.06 L1462.5 589.97 L1464.0 589.89 L1465.5 589.81 L1467.0 589.73 L1468.5 589.66 L1470.0 589.60 L1471.5 589.54 L1472.9 589.48 L1474.4 589.41 L1475.8 589.35 L1477.3 589.29 L1478.8 589.23 L1480.2 589.18 L1481.7 589.13 L1483.2 589.09 L1484.6 589.05 L1486.1 589.02 L1487.5 589.01 L1489.0 589.00 L1490.5 589.01 L1492.0 589.03 L1493.5 589.06 L1495.0 589.10 L1496.5 589.15 L1498.0 589.21 L1499.5 589.28 L1501.0 589.35 L1502.5 589.42 L1504.0 589.50 L1505.5 589.58 L1507.0 589.65 L1508.5 589.73 L1510.0 589.80 L1511.5 589.87 L1513.0 589.95 L1514.5 590.03 L1516.0 590.12 L1517.5 590.20 L1519.0 590.30 L1520.5 590.39 L1522.0 590.49 L1523.5 590.58 L1525.0 590.68 L1525.0 592.12 L1523.5 592.22 L1522.0 592.31 L1520.5 592.41 L1519.0 592.50 L1517.5 592.60 L1516.0 592.68 L1514.5 592.77 L1513.0 592.85 L1511.5 592.93 L1510.0 593.00 L1508.5 593.07 L1507.0 593.15 L1505.5 593.22 L1504.0 593.30 L1502.5 593.38 L1501.0 593.45 L1499.5 593.52 L1498.0 593.59 L1496.5 593.65 L1495.0 593.70 L1493.5 593.74 L1492.0 593.77 L1490.5 593.79 L1489.0 593.80 L1487.5 593.79 L1486.1 593.78 L1484.6 593.75 L1483.2 593.71 L1481.7 593.67 L1480.2 593.62 L1478.8 593.57 L1477.3 593.51 L1475.8 593.45 L1474.4 593.39 L1472.9 593.32 L1471.5 593.26 L1470.0 593.20 L1468.5 593.14 L1467.0 593.07 L1465.5 592.99 L1464.0 592.91 L1462.5 592.83 L1461.0 592.74 L1459.5 592.65 L1458.0 592.55 L1456.5 592.46 L1455.0 592.36 L1453.5 592.26 L1452.0 592.16 Z" fill="none" stroke="#a6e2ff" stroke-width="1"/>
<path d="M1284.6 585.8 V597.0" stroke="#0a0a0a" stroke-width="1.4" stroke-dasharray="4.2 2.8"/>
<circle cx="1254.5" cy="588.9" r="2.05" fill="#0a0a0a" stroke="#a6e2ff" stroke-width="0.9"/>
<circle cx="1254.5" cy="593.9" r="2.05" fill="#0a0a0a" stroke="#a6e2ff" stroke-width="0.9"/>
<circle cx="1258" cy="591.4" r="2.05" fill="#0a0a0a" stroke="#a6e2ff" stroke-width="0.9"/>
<circle cx="1266.3" cy="591.4" r="2.05" fill="#0a0a0a" stroke="#a6e2ff" stroke-width="0.9"/>
<circle cx="1482" cy="591.4" r="2.05" fill="#0a0a0a" stroke="#a6e2ff" stroke-width="0.9"/>
<circle cx="1490.5" cy="591.4" r="2.05" fill="#0a0a0a" stroke="#a6e2ff" stroke-width="0.9"/>
<circle cx="1495.3" cy="591.4" r="2.05" fill="#0a0a0a" stroke="#a6e2ff" stroke-width="0.9"/>
<path d="M1252 545 q6.5 6.5 0 13 Z M1252 566 q7 5.5 0 11 Z" fill="#0c1a14" stroke="#111" stroke-width="1"/>
<path d="M1252 517.9 H1748" stroke="#0a0a0a" stroke-width="1.3"/>
<path d="M1252.5 511.90 L1254.0 511.91 L1255.5 511.92 L1257.0 511.93 L1258.5 511.94 L1260.0 511.95 L1261.5 511.96 L1263.0 511.97 L1264.5 511.97 L1266.0 511.98 L1267.5 511.99 L1269.0 512.01 L1270.5 512.02 L1272.0 512.03 L1273.5 512.05 L1275.0 512.06 L1276.5 512.08 L1278.0 512.10 L1279.5 512.13 L1280.9 512.18 L1282.4 512.24 L1283.9 512.31 L1285.3 512.39 L1286.8 512.49 L1288.3 512.59 L1289.7 512.70 L1291.2 512.81 L1292.7 512.93 L1294.1 513.05 L1295.6 513.17 L1297.1 513.28 L1298.5 513.39 L1300.0 513.50 L1301.5 513.61 L1303.0 513.72 L1304.5 513.84 L1306.0 513.96 L1307.5 514.08 L1309.0 514.21 L1310.5 514.34 L1312.0 514.46 L1313.5 514.59 L1315.0 514.72 L1316.5 514.85 L1318.0 514.98 L1319.5 515.11 L1321.0 515.23 L1322.5 515.35 L1324.0 515.47 L1325.5 515.59 L1327.0 515.70 L1328.5 515.80 L1330.0 515.90 L1331.5 516.00 L1333.0 516.10 L1334.6 516.21 L1336.1 516.32 L1337.6 516.43 L1339.1 516.54 L1340.7 516.64 L1342.2 516.75 L1343.7 516.86 L1345.2 516.96 L1346.8 517.05 L1348.3 517.15 L1349.8 517.23 L1351.3 517.31 L1352.9 517.38 L1354.4 517.45 L1355.9 517.50 L1357.4 517.54 L1359.0 517.57 L1360.5 517.59 L1362.0 517.60 L1363.5 517.60 L1365.0 517.60 L1366.5 517.60 L1368.0 517.60 L1369.5 517.60 L1371.0 517.60 L1372.6 517.60 L1374.1 517.60 L1375.6 517.60 L1377.1 517.60 L1378.6 517.60 L1380.1 517.60 L1381.6 517.60 L1383.1 517.60 L1384.6 517.60 L1386.1 517.60 L1387.6 517.60 L1389.1 517.60 L1390.6 517.60 L1392.1 517.60 L1393.7 517.60 L1395.2 517.60 L1396.7 517.60 L1398.2 517.60 L1399.7 517.60 L1401.2 517.60 L1402.7 517.60 L1404.2 517.60 L1405.7 517.60 L1407.2 517.60 L1408.7 517.60 L1410.2 517.60 L1411.7 517.60 L1413.2 517.60 L1414.8 517.60 L1416.3 517.60 L1417.8 517.60 L1419.3 517.60 L1420.8 517.60 L1422.3 517.60 L1423.8 517.60 L1425.3 517.60 L1426.8 517.60 L1428.3 517.60 L1429.8 517.60 L1431.3 517.60 L1432.8 517.60 L1434.3 517.60 L1435.9 517.60 L1437.4 517.60 L1438.9 517.60 L1440.4 517.60 L1441.9 517.60 L1443.4 517.60 L1444.9 517.60 L1446.4 517.60 L1447.9 517.60 L1449.4 517.60 L1450.9 517.60 L1452.4 517.60 L1453.9 517.60 L1455.4 517.60 L1457.0 517.60 L1458.5 517.60 L1460.0 517.60 L1461.5 517.60 L1463.0 517.60 L1464.5 517.60 L1466.0 517.60 L1467.5 517.60 L1469.0 517.59 L1470.4 517.57 L1471.9 517.55 L1473.4 517.52 L1474.9 517.49 L1476.3 517.46 L1477.8 517.42 L1479.3 517.38 L1480.8 517.33 L1482.3 517.29 L1483.7 517.24 L1485.2 517.19 L1486.7 517.13 L1488.2 517.08 L1489.7 517.03 L1491.1 516.98 L1492.6 516.93 L1494.1 516.88 L1495.6 516.83 L1497.0 516.78 L1498.5 516.74 L1500.0 516.70 L1501.5 516.66 L1503.0 516.61 L1504.6 516.57 L1506.1 516.52 L1507.6 516.47 L1509.1 516.42 L1510.7 516.37 L1512.2 516.31 L1513.7 516.26 L1515.2 516.21 L1516.7 516.16 L1518.3 516.11 L1519.8 516.06 L1521.3 516.02 L1522.8 515.98 L1524.3 515.94 L1525.9 515.91 L1527.4 515.88 L1528.9 515.85 L1530.4 515.83 L1532.0 515.81 L1533.5 515.80 L1535.0 515.80 L1536.5 515.80 L1538.0 515.80 L1539.4 515.80 L1540.9 515.80 L1542.4 515.80 L1543.9 515.80 L1545.4 515.80 L1546.9 515.80 L1548.3 515.80 L1549.8 515.80 L1551.3 515.80 L1552.8 515.80 L1554.3 515.80 L1555.7 515.80 L1557.2 515.80 L1558.7 515.80 L1560.2 515.80 L1561.7 515.80 L1563.1 515.80 L1564.6 515.80 L1566.1 515.80 L1567.6 515.80 L1569.1 515.80 L1570.6 515.80 L1572.0 515.80 L1573.5 515.80 L1575.0 515.80 L1576.5 515.80 L1578.0 515.81 L1579.6 515.83 L1581.1 515.85 L1582.6 515.87 L1584.1 515.90 L1585.7 515.93 L1587.2 515.97 L1588.7 516.01 L1590.2 516.05 L1591.7 516.10 L1593.3 516.15 L1594.8 516.20 L1596.3 516.25 L1597.8 516.30 L1599.3 516.35 L1600.9 516.40 L1602.4 516.45 L1603.9 516.51 L1605.4 516.56 L1607.0 516.61 L1608.5 516.65 L1610.0 516.70 L1611.5 516.74 L1613.0 516.79 L1614.5 516.84 L1616.0 516.88 L1617.5 516.93 L1619.0 516.98 L1620.5 517.03 L1622.0 517.08 L1623.5 517.14 L1625.0 517.19 L1626.5 517.24 L1628.0 517.29 L1629.5 517.34 L1631.0 517.40 L1632.5 517.45 L1634.0 517.50 L1635.5 517.55 L1637.0 517.60 L1637.0 518.20 L1635.5 518.25 L1634.0 518.30 L1632.5 518.35 L1631.0 518.40 L1629.5 518.46 L1628.0 518.51 L1626.5 518.56 L1625.0 518.61 L1623.5 518.66 L1622.0 518.72 L1620.5 518.77 L1619.0 518.82 L1617.5 518.87 L1616.0 518.92 L1614.5 518.96 L1613.0 519.01 L1611.5 519.06 L1610.0 519.10 L1608.5 519.15 L1607.0 519.19 L1605.4 519.24 L1603.9 519.29 L1602.4 519.35 L1600.9 519.40 L1599.3 519.45 L1597.8 519.50 L1596.3 519.55 L1594.8 519.60 L1593.3 519.65 L1591.7 519.70 L1590.2 519.75 L1588.7 519.79 L1587.2 519.83 L1585.7 519.87 L1584.1 519.90 L1582.6 519.93 L1581.1 519.95 L1579.6 519.97 L1578.0 519.99 L1576.5 520.00 L1575.0 520.00 L1573.5 520.00 L1572.0 520.00 L1570.6 520.00 L1569.1 520.00 L1567.6 520.00 L1566.1 520.00 L1564.6 520.00 L1563.1 520.00 L1561.7 520.00 L1560.2 520.00 L1558.7 520.00 L1557.2 520.00 L1555.7 520.00 L1554.3 520.00 L1552.8 520.00 L1551.3 520.00 L1549.8 520.00 L1548.3 520.00 L1546.9 520.00 L1545.4 520.00 L1543.9 520.00 L1542.4 520.00 L1540.9 520.00 L1539.4 520.00 L1538.0 520.00 L1536.5 520.00 L1535.0 520.00 L1533.5 520.00 L1532.0 519.99 L1530.4 519.97 L1528.9 519.95 L1527.4 519.92 L1525.9 519.89 L1524.3 519.86 L1522.8 519.82 L1521.3 519.78 L1519.8 519.74 L1518.3 519.69 L1516.7 519.64 L1515.2 519.59 L1513.7 519.54 L1512.2 519.49 L1510.7 519.43 L1509.1 519.38 L1507.6 519.33 L1506.1 519.28 L1504.6 519.23 L1503.0 519.19 L1501.5 519.14 L1500.0 519.10 L1498.5 519.06 L1497.0 519.02 L1495.6 518.97 L1494.1 518.92 L1492.6 518.87 L1491.1 518.82 L1489.7 518.77 L1488.2 518.72 L1486.7 518.67 L1485.2 518.61 L1483.7 518.56 L1482.3 518.51 L1480.8 518.47 L1479.3 518.42 L1477.8 518.38 L1476.3 518.34 L1474.9 518.31 L1473.4 518.28 L1471.9 518.25 L1470.4 518.23 L1469.0 518.21 L1467.5 518.20 L1466.0 518.20 L1464.5 518.20 L1463.0 518.20 L1461.5 518.20 L1460.0 518.20 L1458.5 518.20 L1457.0 518.20 L1455.4 518.20 L1453.9 518.20 L1452.4 518.20 L1450.9 518.20 L1449.4 518.20 L1447.9 518.20 L1446.4 518.20 L1444.9 518.20 L1443.4 518.20 L1441.9 518.20 L1440.4 518.20 L1438.9 518.20 L1437.4 518.20 L1435.9 518.20 L1434.3 518.20 L1432.8 518.20 L1431.3 518.20 L1429.8 518.20 L1428.3 518.20 L1426.8 518.20 L1425.3 518.20 L1423.8 518.20 L1422.3 518.20 L1420.8 518.20 L1419.3 518.20 L1417.8 518.20 L1416.3 518.20 L1414.8 518.20 L1413.2 518.20 L1411.7 518.20 L1410.2 518.20 L1408.7 518.20 L1407.2 518.20 L1405.7 518.20 L1404.2 518.20 L1402.7 518.20 L1401.2 518.20 L1399.7 518.20 L1398.2 518.20 L1396.7 518.20 L1395.2 518.20 L1393.7 518.20 L1392.1 518.20 L1390.6 518.20 L1389.1 518.20 L1387.6 518.20 L1386.1 518.20 L1384.6 518.20 L1383.1 518.20 L1381.6 518.20 L1380.1 518.20 L1378.6 518.20 L1377.1 518.20 L1375.6 518.20 L1374.1 518.20 L1372.6 518.20 L1371.0 518.20 L1369.5 518.20 L1368.0 518.20 L1366.5 518.20 L1365.0 518.20 L1363.5 518.20 L1362.0 518.20 L1360.5 518.21 L1359.0 518.23 L1357.4 518.26 L1355.9 518.30 L1354.4 518.35 L1352.9 518.42 L1351.3 518.49 L1349.8 518.57 L1348.3 518.65 L1346.8 518.75 L1345.2 518.84 L1343.7 518.94 L1342.2 519.05 L1340.7 519.16 L1339.1 519.26 L1337.6 519.37 L1336.1 519.48 L1334.6 519.59 L1333.0 519.70 L1331.5 519.80 L1330.0 519.90 L1328.5 520.00 L1327.0 520.10 L1325.5 520.21 L1324.0 520.33 L1322.5 520.45 L1321.0 520.57 L1319.5 520.69 L1318.0 520.82 L1316.5 520.95 L1315.0 521.08 L1313.5 521.21 L1312.0 521.34 L1310.5 521.46 L1309.0 521.59 L1307.5 521.72 L1306.0 521.84 L1304.5 521.96 L1303.0 522.08 L1301.5 522.19 L1300.0 522.30 L1298.5 522.41 L1297.1 522.52 L1295.6 522.63 L1294.1 522.75 L1292.7 522.87 L1291.2 522.99 L1289.7 523.10 L1288.3 523.21 L1286.8 523.31 L1285.3 523.41 L1283.9 523.49 L1282.4 523.56 L1280.9 523.62 L1279.5 523.67 L1278.0 523.70 L1276.5 523.72 L1275.0 523.74 L1273.5 523.75 L1272.0 523.77 L1270.5 523.78 L1269.0 523.79 L1267.5 523.81 L1266.0 523.82 L1264.5 523.83 L1263.0 523.83 L1261.5 523.84 L1260.0 523.85 L1258.5 523.86 L1257.0 523.87 L1255.5 523.88 L1254.0 523.89 L1252.5 523.90 Z" fill="#4c98f0" stroke="#0a0a0a" stroke-width="1.4" stroke-linejoin="round"/>
<path d="M1252.5 513.50 L1254.0 513.51 L1255.5 513.52 L1257.0 513.53 L1258.5 513.54 L1260.0 513.55 L1261.5 513.56 L1263.0 513.57 L1264.5 513.57 L1266.0 513.58 L1267.5 513.59 L1269.0 513.61 L1270.5 513.62 L1272.0 513.63 L1273.5 513.65 L1275.0 513.66 L1276.5 513.68 L1278.0 513.70 L1279.5 513.73 L1280.9 513.78 L1282.4 513.84 L1283.9 513.91 L1285.3 513.99 L1286.8 514.09 L1288.3 514.19 L1289.7 514.30 L1291.2 514.41 L1292.7 514.53 L1294.1 514.65 L1295.6 514.77 L1297.1 514.88 L1298.5 514.99 L1300.0 515.10 L1301.5 515.21 L1303.0 515.32 L1304.5 515.44 L1306.0 515.56 L1307.5 515.68 L1309.0 515.81 L1310.5 515.94 L1312.0 516.06 L1313.5 516.19 L1315.0 516.32 L1316.5 516.45 L1318.0 516.58 L1319.5 516.71 L1321.0 516.83 L1322.5 516.95 L1324.0 517.07 L1325.5 517.19 L1325.5 518.61 L1324.0 518.73 L1322.5 518.85 L1321.0 518.97 L1319.5 519.09 L1318.0 519.22 L1316.5 519.35 L1315.0 519.48 L1313.5 519.61 L1312.0 519.74 L1310.5 519.86 L1309.0 519.99 L1307.5 520.12 L1306.0 520.24 L1304.5 520.36 L1303.0 520.48 L1301.5 520.59 L1300.0 520.70 L1298.5 520.81 L1297.1 520.92 L1295.6 521.03 L1294.1 521.15 L1292.7 521.27 L1291.2 521.39 L1289.7 521.50 L1288.3 521.61 L1286.8 521.71 L1285.3 521.81 L1283.9 521.89 L1282.4 521.96 L1280.9 522.02 L1279.5 522.07 L1278.0 522.10 L1276.5 522.12 L1275.0 522.14 L1273.5 522.15 L1272.0 522.17 L1270.5 522.18 L1269.0 522.19 L1267.5 522.21 L1266.0 522.22 L1264.5 522.23 L1263.0 522.23 L1261.5 522.24 L1260.0 522.25 L1258.5 522.26 L1257.0 522.27 L1255.5 522.28 L1254.0 522.29 L1252.5 522.30 Z" fill="none" stroke="#a6e2ff" stroke-width="1"/>
<path d="M1537 516.0 V519.8" stroke="#0a0a0a" stroke-width="1.4" stroke-dasharray="1.4 0.9"/>
<path d="M1576 516.0 V519.8" stroke="#0a0a0a" stroke-width="1.4" stroke-dasharray="1.4 0.9"/>
<circle cx="1254.5" cy="515.9" r="2.05" fill="#0a0a0a" stroke="#a6e2ff" stroke-width="0.9"/>
<circle cx="1254.5" cy="520.4" r="2.05" fill="#0a0a0a" stroke="#a6e2ff" stroke-width="0.9"/>
<circle cx="1263.6" cy="517.9" r="2.05" fill="#0a0a0a" stroke="#a6e2ff" stroke-width="0.9"/>
<path d="M1252 404.6 H1366.8" stroke="#0a0a0a" stroke-width="1.3"/>
<path d="M1252.5 398.60 L1254.0 398.91 L1255.5 399.21 L1257.0 399.60 L1258.7 400.32 L1260.3 401.23 L1262.0 402.00 L1263.3 402.49 L1264.7 402.92 L1266.0 403.10 L1267.5 403.10 L1269.0 403.10 L1270.6 403.10 L1272.1 403.10 L1273.6 403.10 L1275.1 403.10 L1276.7 403.10 L1278.2 403.10 L1279.7 403.10 L1281.2 403.10 L1282.8 403.10 L1284.3 403.10 L1285.8 403.10 L1287.3 403.10 L1288.9 403.10 L1290.4 403.10 L1291.9 403.10 L1293.4 403.10 L1295.0 403.10 L1296.5 403.10 L1298.0 403.10 L1299.7 403.32 L1301.3 403.81 L1303.0 404.30 L1303.0 404.90 L1301.3 405.39 L1299.7 405.88 L1298.0 406.10 L1296.5 406.10 L1295.0 406.10 L1293.4 406.10 L1291.9 406.10 L1290.4 406.10 L1288.9 406.10 L1287.3 406.10 L1285.8 406.10 L1284.3 406.10 L1282.8 406.10 L1281.2 406.10 L1279.7 406.10 L1278.2 406.10 L1276.7 406.10 L1275.1 406.10 L1273.6 406.10 L1272.1 406.10 L1270.6 406.10 L1269.0 406.10 L1267.5 406.10 L1266.0 406.10 L1264.7 406.28 L1263.3 406.71 L1262.0 407.20 L1260.3 407.97 L1258.7 408.88 L1257.0 409.60 L1255.5 409.99 L1254.0 410.29 L1252.5 410.60 Z" fill="#1fc47c" stroke="#0a0a0a" stroke-width="1.4" stroke-linejoin="round"/>
<path d="M1252.5 400.20 L1254.0 400.51 L1255.5 400.81 L1257.0 401.20 L1258.7 401.92 L1260.3 402.83 L1262.0 403.60 L1262.0 405.60 L1260.3 406.37 L1258.7 407.28 L1257.0 408.00 L1255.5 408.39 L1254.0 408.69 L1252.5 409.00 Z" fill="none" stroke="#6df5b5" stroke-width="1"/>
<path d="M1275 403.20000000000005 V406.0" stroke="#0a0a0a" stroke-width="1.4" stroke-dasharray="1.0 0.7"/>
<path d="M1285 403.20000000000005 V406.0" stroke="#0a0a0a" stroke-width="1.4" stroke-dasharray="1.0 0.7"/>
<path d="M1294 403.20000000000005 V406.0" stroke="#0a0a0a" stroke-width="1.4" stroke-dasharray="1.0 0.7"/>
<path d="M1333.0 404.30 L1339.0 403.50 L1345.0 404.30 L1345.0 404.90 L1339.0 405.70 L1333.0 404.90 Z" fill="#1fc47c" stroke="#0a0a0a" stroke-width="1.4" stroke-linejoin="round"/>
<circle cx="1256.3" cy="424.8" r="1.4" fill="#000"/>
<path d="M1252 371.4 H1292.5" stroke="#0a0a0a" stroke-width="1.5"/><circle cx="1255" cy="371.4" r="1.5" fill="#000"/><circle cx="1289.3" cy="371.4" r="1.5" fill="#000"/>
<path d="M1252 351.5 H1316.3" stroke="#0a0a0a" stroke-width="1.3"/>
<path d="M1252.5 347.50 L1256.0 349.90 L1261.0 351.20 L1261.0 351.80 L1256.0 353.10 L1252.5 355.50 Z" fill="#f63e3e" stroke="#0a0a0a" stroke-width="1.4" stroke-linejoin="round"/>
<circle cx="1275" cy="351.5" r="1.6" fill="#0a0a0a"/>
<circle cx="1310" cy="351.5" r="1.6" fill="#0a0a0a"/>
<path d="M1252.5 327.20 L1255.0 328.40 L1257.0 331.30 L1257.0 332.30 L1255.0 335.20 L1252.5 336.40 Z" fill="#159a5e" stroke="#0a0a0a" stroke-width="1.4" stroke-linejoin="round"/>
<path d="M1252.5 328.80 L1255.0 330.00 L1255.0 333.60 L1252.5 334.80 Z" fill="none" stroke="#6df5b5" stroke-width="1"/>
<path d="M1253 291 v14" stroke="#111" stroke-width="2.6" stroke-dasharray="2 1.3"/>
<path d="M1252 278.2 H1268" stroke="#0a0a0a" stroke-width="1.3"/>
<path d="M1252.5 277.20 L1254.5 274.40 L1256.5 276.80 L1258.5 275.40 L1259.8 276.28 L1261.0 277.40 L1263.0 277.90 L1263.0 278.50 L1261.0 279.00 L1259.8 280.12 L1258.5 281.00 L1256.5 279.60 L1254.5 282.00 L1252.5 279.20 Z" fill="#d83030" stroke="#0a0a0a" stroke-width="1.4" stroke-linejoin="round"/>
<path d="M1254.5 276.00 L1258.5 277.00 L1258.5 279.40 L1254.5 280.40 Z" fill="none" stroke="#ff8a8a" stroke-width="1"/>
<circle cx="1264.5" cy="278.2" r="1.6" fill="#0a0a0a"/>
<path d="M1252 257.6 H1280" stroke="#0a0a0a" stroke-width="1.3"/>
<path d="M1252.5 252.20 L1254.0 252.37 L1255.5 252.60 L1257.2 253.59 L1259.0 254.80 L1260.7 255.58 L1262.3 256.24 L1264.0 256.60 L1265.6 256.74 L1267.2 256.85 L1268.8 256.93 L1270.4 256.98 L1272.0 257.00 L1274.0 256.40 L1275.5 256.74 L1277.0 257.30 L1277.0 257.90 L1275.5 258.46 L1274.0 258.80 L1272.0 258.20 L1270.4 258.22 L1268.8 258.27 L1267.2 258.35 L1265.6 258.46 L1264.0 258.60 L1262.3 258.96 L1260.7 259.62 L1259.0 260.40 L1257.2 261.61 L1255.5 262.60 L1254.0 262.83 L1252.5 263.00 Z" fill="#1fc47c" stroke="#0a0a0a" stroke-width="1.4" stroke-linejoin="round"/>
<path d="M1252.5 253.80 L1254.0 253.97 L1255.5 254.20 L1257.2 255.19 L1259.0 256.40 L1259.0 258.80 L1257.2 260.01 L1255.5 261.00 L1254.0 261.23 L1252.5 261.40 Z" fill="none" stroke="#6df5b5" stroke-width="1"/>
<circle cx="1255" cy="255.10000000000002" r="2.05" fill="#0a0a0a" stroke="#6df5b5" stroke-width="0.9"/>
<circle cx="1255" cy="260.1" r="2.05" fill="#0a0a0a" stroke="#6df5b5" stroke-width="0.9"/>
<circle cx="1259.5" cy="257.6" r="2.05" fill="#0a0a0a" stroke="#6df5b5" stroke-width="0.9"/>
<path d="M1252 204.8 H1316.5" stroke="#0a0a0a" stroke-width="1.5"/><circle cx="1268.7" cy="204.8" r="1.5" fill="#000"/><circle cx="1314" cy="204.8" r="1.5" fill="#000"/>
<path d="M1252 180 q4 5.5 0 11" fill="#000" stroke="#111" stroke-width="1"/>
<path d="M1253 221 v12" stroke="#111" stroke-width="2.2" stroke-dasharray="1.5 2"/>
<circle cx="1256.5" cy="131.3" r="1.3" fill="#000"/><circle cx="1254.5" cy="151.5" r="1.2" fill="#000"/><circle cx="1253.5" cy="81.5" r="1.2" fill="#000"/>
<path d="M1253 110 v10" stroke="#111" stroke-width="1.6" stroke-dasharray="1.2 2.4"/>
<path d="M1251.8 24 V751.8" stroke="#000" stroke-width="2.8" fill="none"/>
<path d="M1250.3999999999999 750.6 H1840" stroke="#000" stroke-width="3" fill="none"/>
<path d="M1251.8 750.8 V760.8" stroke="#000" stroke-width="2.8"/>
<text transform="translate(1260.9 783.3) rotate(-45)" text-anchor="end" font-family='"Liberation Serif", serif' font-weight="bold" font-size="25.6" fill="#000">0</text>
<path d="M1447.1 750.8 V760.8" stroke="#000" stroke-width="2.8"/>
<text transform="translate(1456.2 783.3) rotate(-45)" text-anchor="end" font-family='"Liberation Serif", serif' font-weight="bold" font-size="25.6" fill="#000">50</text>
<path d="M1642.4 750.8 V760.8" stroke="#000" stroke-width="2.8"/>
<text transform="translate(1651.5 783.3) rotate(-45)" text-anchor="end" font-family='"Liberation Serif", serif' font-weight="bold" font-size="25.6" fill="#000">100</text>
<path d="M1837.7 750.8 V760.8" stroke="#000" stroke-width="2.8"/>
<text transform="translate(1846.8 783.3) rotate(-45)" text-anchor="end" font-family='"Liberation Serif", serif' font-weight="bold" font-size="25.6" fill="#000">150</text>
<text x="1544.5" y="842.2" text-anchor="middle" font-family='"Liberation Serif", serif' font-weight="bold" font-size="24.9" fill="#000">Relative abundance(%)</text>
<path d="M1441.6 274.6 H1451.4 V300 H1441.6" fill="none" stroke="#000" stroke-width="1.6"/>
<text x="1460.7" y="297.5" text-anchor="middle" font-family='"Liberation Serif", serif' font-size="22.5" fill="#000">*</text>
<path d="M1481.6 247.8 H1494.6 V301 H1481.6" fill="none" stroke="#000" stroke-width="1.6"/>
<text x="1505" y="286.1" text-anchor="middle" font-family='"Liberation Serif", serif' font-size="22.5" fill="#000">*</text>
<path d="M1379.5 401.2 H1390.8 V447.8 H1379.5" fill="none" stroke="#000" stroke-width="1.6"/>
<text x="1401.5" y="436.1" text-anchor="middle" font-family='"Liberation Serif", serif' font-size="22.5" fill="#000">*</text>
<path d="M1784 493.3 H1800.6 V518.1 H1784" fill="none" stroke="#000" stroke-width="1.6"/>
<text x="1811.4" y="517.1" text-anchor="middle" font-family='"Liberation Serif", serif' font-size="22.5" fill="#000">*</text>
<path d="M1671.2 565.8 H1681.9 V592.6 H1671.2" fill="none" stroke="#000" stroke-width="1.6"/>
<text x="1690.4" y="589.1" text-anchor="middle" font-family='"Liberation Serif", serif' font-size="22.5" fill="#000">*</text>
<path d="M1701.6 554 H1711 V594 H1701.6" fill="none" stroke="#000" stroke-width="1.6"/>
<text x="1720.5" y="582.5" text-anchor="middle" font-family='"Liberation Serif", serif' font-size="22.5" fill="#000">*</text>
<path d="M1684.6 718.5 H1694.8 V741.9 H1684.6" fill="none" stroke="#000" stroke-width="1.6"/>
<text x="1704.8" y="741.1" text-anchor="middle" font-family='"Liberation Serif", serif' font-size="22.5" fill="#000">*</text>
<path d="M1739.4 694.5 H1751 V740.8 H1739.4" fill="none" stroke="#000" stroke-width="1.6"/>
<text x="1761" y="727.1" text-anchor="middle" font-family='"Liberation Serif", serif' font-size="22.5" fill="#000">*</text>
<text x="1728.6" y="794.4" text-anchor="middle" font-family='"Liberation Serif", serif' font-size="22.5" fill="#000">*</text>
</g>
</svg>
</body></html>
